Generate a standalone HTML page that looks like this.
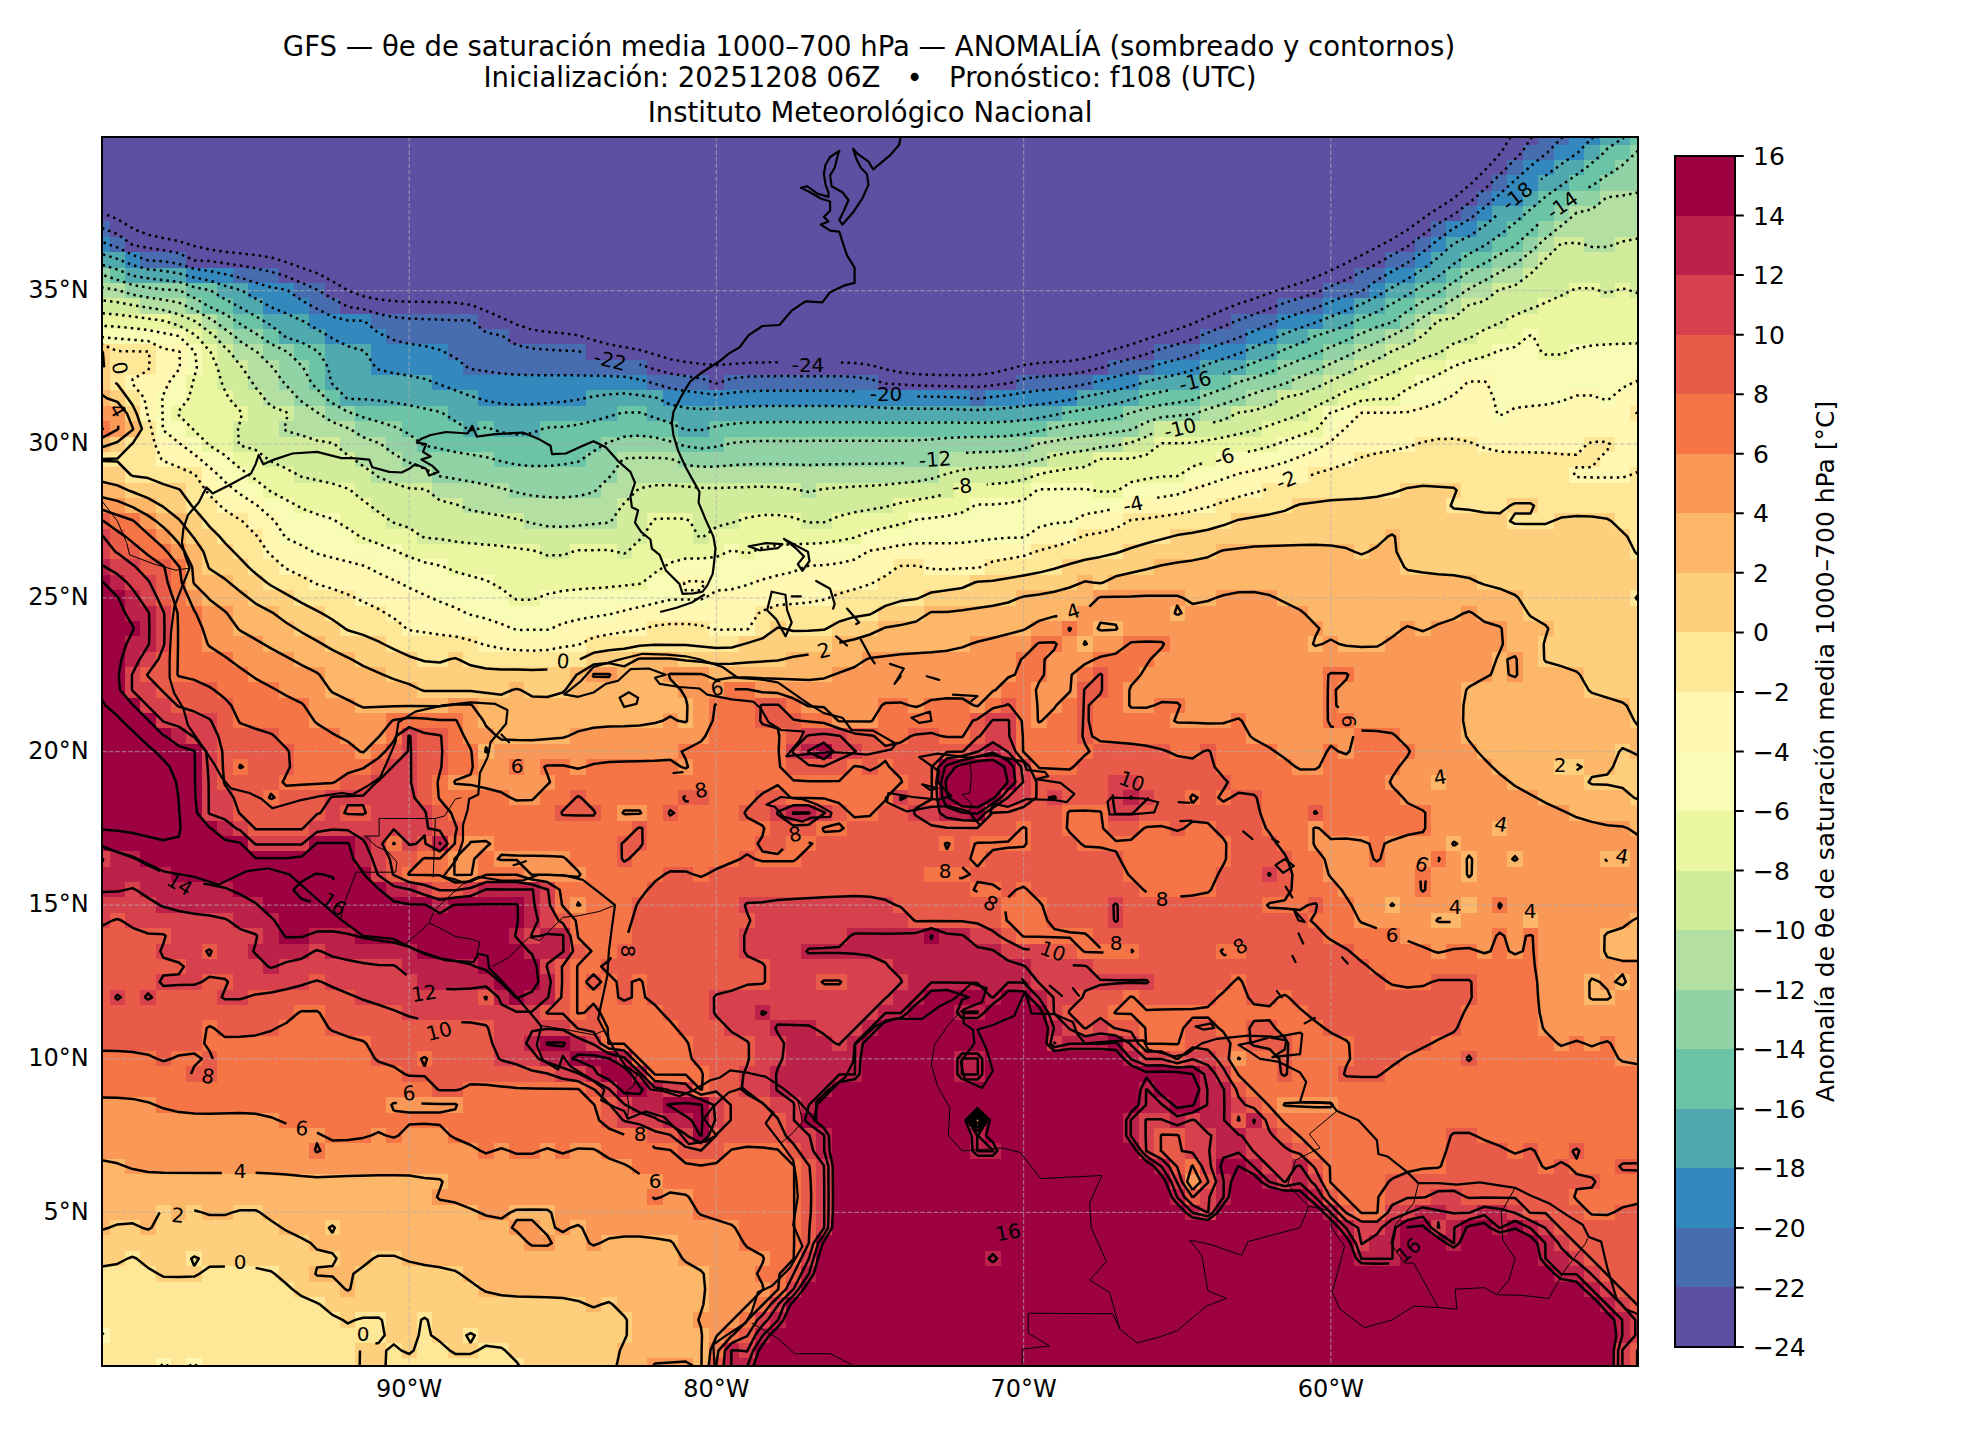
<!DOCTYPE html>
<html lang="es"><head><meta charset="utf-8"><title>GFS — θe de saturación media 1000–700 hPa — ANOMALÍA</title>
<style>html,body{margin:0;padding:0;background:#fff}svg{display:block}text{font-family:'DejaVu Sans','Liberation Sans',sans-serif;fill:#000}</style></head><body>
<svg width="1980" height="1440" viewBox="0 0 1980 1440">
<rect width="1980" height="1440" fill="#fff"/>
<g font-size="27.5" text-anchor="middle">
<text x="869" y="55.8">GFS — θe de saturación media 1000–700 hPa — ANOMALÍA (sombreado y contornos)</text>
<text x="870" y="87.3" xml:space="preserve">Inicialización: 20251208 06Z   •   Pronóstico: f108 (UTC)</text>
<text x="870" y="122">Instituto Meteorológico Nacional</text>
</g>
<defs><clipPath id="ax"><rect x="102.0" y="137.0" width="1536.0" height="1229.0"/></clipPath></defs>
<g clip-path="url(#ax)">
<g shape-rendering="crispEdges"><path fill="#5e4fa2" d="M709 375h15v15h-15zM878 375h138v15h-138zM647 360h461v15h-461zM586 344h568v16h-568zM509 329h691v15h-691zM478 314h753v15h-753zM340 298h937v16h-937zM325 283h998v15h-998zM279 268h1075v15h-1075zM186 252h1199v16h-1199zM125 237h1290v15h-1290zM110 221h1321v16h-1321zM102 206h1359v15h-1359zM102 191h1375v15h-1375zM102 175h1390v16h-1390zM102 160h1405v15h-1405zM102 145h1421v15h-1421zM102 137h1436v8h-1436z"/>
<path fill="#486cb0" d="M970 390h15v16h-15zM647 375h62v15h-62zM724 375h154v15h-154zM1016 375h77v15h-77zM463 360h184v15h-184zM1108 360h46v15h-46zM448 344h138v16h-138zM1154 344h46v16h-46zM386 329h123v15h-123zM1200 329h46v15h-46zM371 314h107v15h-107zM1231 314h46v15h-46zM309 298h31v16h-31zM1277 298h46v16h-46zM294 283h31v15h-31zM1323 283h46v15h-46zM233 268h46v15h-46zM1354 268h31v15h-31zM140 252h46v16h-46zM1385 252h30v16h-30zM110 237h15v15h-15zM1415 237h16v15h-16zM102 221h8v16h-8zM1431 221h15v16h-15zM1461 206h16v15h-16zM1477 191h15v15h-15zM1492 175h15v16h-15zM1507 160h16v15h-16zM1523 145h31v15h-31zM1538 137h31v8h-31z"/>
<path fill="#3389bd" d="M478 390h108v16h-108zM663 390h307v16h-307zM985 390h92v16h-92zM432 375h215v15h-215zM1093 375h46v15h-46zM371 360h92v15h-92zM1154 360h46v15h-46zM371 344h77v16h-77zM1200 344h46v16h-46zM325 329h61v15h-61zM1246 329h31v15h-31zM309 314h62v15h-62zM1277 314h46v15h-46zM263 298h46v16h-46zM1323 298h31v16h-31zM248 283h46v15h-46zM1369 283h16v15h-16zM186 268h47v15h-47zM1385 268h30v15h-30zM125 252h15v16h-15zM1415 252h16v16h-16zM102 237h8v15h-8zM1431 237h15v15h-15zM1446 221h31v16h-31zM1477 206h15v15h-15zM1492 191h31v15h-31zM1507 175h31v16h-31zM1523 160h31v15h-31zM1554 145h30v15h-30zM1569 137h31v8h-31z"/>
<path fill="#50a9af" d="M463 421h15v16h-15zM494 421h46v16h-46zM678 421h31v16h-31zM448 406h169v15h-169zM647 406h415v15h-415zM340 390h138v16h-138zM586 390h77v16h-77zM1077 390h62v16h-62zM325 375h107v15h-107zM1139 375h61v15h-61zM325 360h46v15h-46zM1200 360h46v15h-46zM325 344h46v16h-46zM1246 344h31v16h-31zM279 329h46v15h-46zM1277 329h31v15h-31zM263 314h46v15h-46zM1323 314h31v15h-31zM233 298h30v16h-30zM1354 298h31v16h-31zM217 283h31v15h-31zM1385 283h30v15h-30zM125 268h61v15h-61zM1415 268h31v15h-31zM102 252h23v16h-23zM1431 252h30v16h-30zM1446 237h46v15h-46zM1477 221h30v16h-30zM1492 206h31v15h-31zM1523 191h15v15h-15zM1538 175h31v16h-31zM1554 160h30v15h-30zM1584 145h16v15h-16zM1600 137h30v8h-30z"/>
<path fill="#6bc4a5" d="M494 452h92v15h-92zM417 437h184v15h-184zM678 437h46v15h-46zM402 421h61v16h-61zM478 421h16v16h-16zM540 421h138v16h-138zM709 421h338v16h-338zM355 406h93v15h-93zM617 406h30v15h-30zM1062 406h61v15h-61zM325 390h15v16h-15zM1139 390h61v16h-61zM309 375h16v15h-16zM1200 375h31v15h-31zM309 360h16v15h-16zM1246 360h31v15h-31zM294 344h31v16h-31zM1277 344h46v16h-46zM263 329h16v15h-16zM1308 329h46v15h-46zM233 314h30v15h-30zM1354 314h46v15h-46zM202 298h31v16h-31zM1385 298h30v16h-30zM186 283h31v15h-31zM1415 283h31v15h-31zM110 268h15v15h-15zM1446 268h15v15h-15zM1461 252h31v16h-31zM1492 237h31v15h-31zM1507 221h31v16h-31zM1523 206h31v15h-31zM1538 191h31v15h-31zM1569 175h31v16h-31zM1584 160h31v15h-31zM1600 145h30v15h-30zM1630 137h8v8h-8z"/>
<path fill="#91d3a4" d="M509 483h92v15h-92zM432 467h185v16h-185zM402 452h92v15h-92zM586 452h31v15h-31zM678 452h261v15h-261zM386 437h31v15h-31zM601 437h77v15h-77zM724 437h307v15h-307zM355 421h47v16h-47zM1047 421h92v16h-92zM325 406h30v15h-30zM1123 406h77v15h-77zM294 390h31v16h-31zM1200 390h46v16h-46zM279 375h30v15h-30zM1231 375h61v15h-61zM279 360h30v15h-30zM1277 360h46v15h-46zM263 344h31v16h-31zM1323 344h31v16h-31zM233 329h30v15h-30zM1354 329h31v15h-31zM217 314h16v15h-16zM1400 314h15v15h-15zM186 298h16v16h-16zM1415 298h31v16h-31zM125 283h61v15h-61zM1446 283h15v15h-15zM102 268h8v15h-8zM1461 268h31v15h-31zM1492 252h31v16h-31zM1523 237h15v15h-15zM1538 221h16v16h-16zM1554 206h15v15h-15zM1569 191h31v15h-31zM1600 175h38v16h-38zM1615 160h23v15h-23zM1630 145h8v15h-8z"/>
<path fill="#b3e0a2" d="M524 513h93v16h-93zM463 498h154v15h-154zM432 483h77v15h-77zM601 483h31v15h-31zM801 483h15v15h-15zM371 467h61v16h-61zM617 467h322v16h-322zM355 452h47v15h-47zM617 452h61v15h-61zM939 452h108v15h-108zM340 437h46v15h-46zM1031 437h92v15h-92zM279 421h76v16h-76zM1139 421h15v16h-15zM294 406h31v15h-31zM1200 406h31v15h-31zM263 390h31v16h-31zM1246 390h31v16h-31zM248 375h31v15h-31zM1292 375h31v15h-31zM248 360h31v15h-31zM1323 360h31v15h-31zM233 344h30v16h-30zM1354 344h31v16h-31zM217 329h16v15h-16zM1385 329h30v15h-30zM202 314h15v15h-15zM1415 314h16v15h-16zM140 298h46v16h-46zM1446 298h15v16h-15zM102 283h23v15h-23zM1461 283h31v15h-31zM1492 268h31v15h-31zM1523 252h15v16h-15zM1538 237h16v15h-16zM1584 237h31v15h-31zM1554 221h84v16h-84zM1569 206h69v15h-69zM1600 191h38v15h-38z"/>
<path fill="#d1ed9c" d="M540 544h30v15h-30zM617 544h15v15h-15zM417 529h230v15h-230zM693 529h16v15h-16zM386 513h138v16h-138zM617 513h30v16h-30zM693 513h46v16h-46zM801 513h31v16h-31zM371 498h92v15h-92zM617 498h276v15h-276zM355 483h77v15h-77zM632 483h169v15h-169zM816 483h138v15h-138zM294 467h77v16h-77zM939 467h92v16h-92zM263 452h92v15h-92zM1047 452h46v15h-46zM233 437h107v15h-107zM1123 437h31v15h-31zM233 421h46v16h-46zM1154 421h108v16h-108zM248 406h46v15h-46zM1231 406h77v15h-77zM233 390h30v16h-30zM1277 390h61v16h-61zM217 375h31v15h-31zM1323 375h46v15h-46zM217 360h31v15h-31zM1354 360h46v15h-46zM217 344h16v16h-16zM1385 344h61v16h-61zM202 329h15v15h-15zM1415 329h62v15h-62zM171 314h31v15h-31zM1431 314h76v15h-76zM102 298h38v16h-38zM1461 298h77v16h-77zM1492 283h77v15h-77zM1600 283h15v15h-15zM1630 283h8v15h-8zM1523 268h115v15h-115zM1538 252h100v16h-100zM1554 237h30v15h-30zM1615 237h23v15h-23z"/>
<path fill="#ebf7a0" d="M509 590h31v16h-31zM494 575h153v15h-153zM448 559h215v16h-215zM402 544h138v15h-138zM570 544h47v15h-47zM632 544h92v15h-92zM739 544h16v15h-16zM355 529h62v15h-62zM647 529h46v15h-46zM709 529h153v15h-153zM340 513h46v16h-46zM647 513h46v16h-46zM739 513h62v16h-62zM832 513h76v16h-76zM294 498h77v15h-77zM893 498h77v15h-77zM263 483h92v15h-92zM954 483h77v15h-77zM1093 483h30v15h-30zM248 467h46v16h-46zM1031 467h154v16h-154zM233 452h30v15h-30zM1093 452h123v15h-123zM202 437h31v15h-31zM1154 437h123v15h-123zM186 421h47v16h-47zM1262 421h61v16h-61zM171 406h77v15h-77zM1308 406h15v15h-15zM186 390h47v16h-47zM1338 390h62v16h-62zM186 375h31v15h-31zM1369 375h46v15h-46zM202 360h15v15h-15zM1400 360h46v15h-46zM202 344h15v16h-15zM1446 344h46v16h-46zM1538 344h31v16h-31zM186 329h16v15h-16zM1477 329h46v15h-46zM1538 329h100v15h-100zM102 314h69v15h-69zM1507 314h131v15h-131zM1538 298h100v16h-100zM1569 283h31v15h-31zM1615 283h15v15h-15z"/>
<path fill="#f8fcb4" d="M509 621h46v15h-46zM463 606h154v15h-154zM432 590h77v16h-77zM540 590h169v16h-169zM402 575h92v15h-92zM647 575h31v15h-31zM709 575h46v15h-46zM371 559h77v16h-77zM663 559h138v16h-138zM309 544h93v15h-93zM724 544h15v15h-15zM755 544h107v15h-107zM279 529h76v15h-76zM862 529h169v15h-169zM279 513h61v16h-61zM908 513h169v16h-169zM263 498h31v15h-31zM970 498h153v15h-153zM233 483h30v15h-30zM1031 483h62v15h-62zM1123 483h62v15h-62zM217 467h31v16h-31zM1185 467h46v16h-46zM202 452h31v15h-31zM1216 452h76v15h-76zM186 437h16v15h-16zM1277 437h46v15h-46zM156 421h30v16h-30zM1323 421h15v16h-15zM156 406h15v15h-15zM1323 406h31v15h-31zM1492 406h15v15h-15zM156 390h30v16h-30zM1400 390h46v16h-46zM1492 390h77v16h-77zM1600 390h15v16h-15zM171 375h15v15h-15zM1415 375h46v15h-46zM1492 375h138v15h-138zM186 360h16v15h-16zM1446 360h192v15h-192zM186 344h16v16h-16zM1492 344h46v16h-46zM1569 344h69v16h-69zM102 329h84v15h-84zM1523 329h15v15h-15z"/>
<path fill="#fff7b2" d="M156 1358h15v8h-15zM186 1358h16v8h-16zM102 1328h8v15h-8zM478 636h108v16h-108zM402 621h107v15h-107zM555 621h92v15h-92zM709 621h46v15h-46zM386 606h77v15h-77zM617 606h138v15h-138zM355 590h77v16h-77zM709 590h123v16h-123zM309 575h93v15h-93zM678 575h31v15h-31zM755 575h123v15h-123zM279 559h92v16h-92zM801 559h92v16h-92zM924 559h61v16h-61zM263 544h46v15h-46zM862 544h169v15h-169zM263 529h16v15h-16zM1031 529h46v15h-46zM248 513h31v16h-31zM1077 513h46v16h-46zM217 498h46v15h-46zM1123 498h93v15h-93zM202 483h31v15h-31zM1185 483h77v15h-77zM202 467h15v16h-15zM1231 467h77v16h-77zM1569 467h61v16h-61zM156 452h46v15h-46zM1292 452h62v15h-62zM1600 452h38v15h-38zM156 437h30v15h-30zM1323 437h92v15h-92zM1477 437h107v15h-107zM1615 437h23v15h-23zM1338 421h300v16h-300zM140 406h16v15h-16zM1354 406h138v15h-138zM1507 406h123v15h-123zM140 390h16v16h-16zM1446 390h46v16h-46zM1569 390h31v16h-31zM1615 390h23v16h-23zM125 375h46v15h-46zM1461 375h31v15h-31zM1630 375h8v15h-8zM156 360h30v15h-30zM156 344h30v16h-30z"/>
<path fill="#fee797" d="M102 1358h54v8h-54zM171 1358h15v8h-15zM202 1358h153v8h-153zM386 1358h138v8h-138zM102 1343h253v15h-253zM386 1343h16v15h-16zM417 1343h31v15h-31zM478 1343h31v15h-31zM110 1328h276v15h-276zM417 1328h15v15h-15zM463 1328h15v15h-15zM102 1312h238v16h-238zM355 1312h31v16h-31zM417 1312h15v16h-15zM102 1297h223v15h-223zM102 1282h192v15h-192zM102 1266h54v16h-54zM202 1266h77v16h-77zM125 1251h15v15h-15zM186 1251h16v15h-16zM417 652h31v15h-31zM463 652h123v15h-123zM386 636h92v16h-92zM586 636h153v16h-153zM340 621h62v15h-62zM647 621h62v15h-62zM755 621h15v15h-15zM786 621h46v15h-46zM325 606h61v15h-61zM755 606h123v15h-123zM294 590h61v16h-61zM832 590h92v16h-92zM1630 590h8v16h-8zM263 575h46v15h-46zM878 575h92v15h-92zM248 559h31v16h-31zM893 559h31v16h-31zM985 559h77v16h-77zM233 544h30v15h-30zM1031 544h92v15h-92zM1630 544h8v15h-8zM217 529h46v15h-46zM1077 529h93v15h-93zM1630 529h8v15h-8zM202 513h46v16h-46zM1123 513h108v16h-108zM1507 513h47v16h-47zM1615 513h23v16h-23zM186 498h31v15h-31zM1216 498h76v15h-76zM1446 498h61v15h-61zM1538 498h100v15h-100zM186 483h16v15h-16zM1262 483h138v15h-138zM1461 483h177v15h-177zM125 467h77v16h-77zM1308 467h261v16h-261zM1630 467h8v16h-8zM102 452h54v15h-54zM1354 452h246v15h-246zM125 437h31v15h-31zM1415 437h62v15h-62zM1584 437h31v15h-31zM140 421h16v16h-16zM1630 406h8v15h-8zM125 390h15v16h-15zM110 375h15v15h-15zM110 360h46v15h-46zM110 344h46v16h-46z"/>
<path fill="#fed07e" d="M355 1358h31v8h-31zM524 1358h93v8h-93zM355 1343h31v15h-31zM402 1343h15v15h-15zM448 1343h30v15h-30zM509 1343h108v15h-108zM386 1328h31v15h-31zM432 1328h31v15h-31zM478 1328h154v15h-154zM340 1312h15v16h-15zM386 1312h31v16h-31zM432 1312h200v16h-200zM325 1297h261v15h-261zM601 1297h16v15h-16zM294 1282h46v15h-46zM355 1282h123v15h-123zM156 1266h46v16h-46zM279 1266h30v16h-30zM355 1266h108v16h-108zM102 1251h23v15h-23zM140 1251h46v15h-46zM202 1251h138v15h-138zM371 1251h31v15h-31zM102 1235h207v16h-207zM110 1220h30v15h-30zM156 1220h123v15h-123zM325 1220h15v15h-15zM156 1205h15v15h-15zM186 1205h16v15h-16zM233 1205h30v15h-30zM1630 790h8v15h-8zM1584 775h54v15h-54zM1554 759h30v16h-30zM1615 759h23v16h-23zM1615 744h15v15h-15zM1630 713h8v15h-8zM1630 698h8v15h-8zM417 682h92v16h-92zM524 682h46v16h-46zM1584 682h54v16h-54zM386 667h184v15h-184zM1584 667h54v15h-54zM355 652h62v15h-62zM448 652h15v15h-15zM586 652h46v15h-46zM678 652h108v15h-108zM1538 652h100v15h-100zM325 636h61v16h-61zM739 636h93v16h-93zM1538 636h100v16h-100zM294 621h46v15h-46zM770 621h16v15h-16zM832 621h46v15h-46zM1554 621h84v15h-84zM279 606h46v15h-46zM878 606h46v15h-46zM1523 606h115v15h-115zM248 590h46v16h-46zM924 590h92v16h-92zM1523 590h107v16h-107zM233 575h30v15h-30zM970 575h107v15h-107zM1093 575h15v15h-15zM1477 575h161v15h-161zM202 559h46v16h-46zM1062 559h92v16h-92zM1400 559h238v16h-238zM202 544h31v15h-31zM1123 544h93v15h-93zM1354 544h15v15h-15zM1400 544h230v15h-230zM186 529h31v15h-31zM1170 529h215v15h-215zM1400 529h230v15h-230zM186 513h16v16h-16zM1231 513h276v16h-276zM1554 513h61v16h-61zM156 498h30v15h-30zM1292 498h154v15h-154zM1507 498h31v15h-31zM125 483h61v15h-61zM1400 483h61v15h-61zM102 467h23v16h-23zM110 437h15v15h-15zM125 406h15v15h-15zM110 390h15v16h-15zM102 375h8v15h-8zM102 360h8v15h-8zM102 344h8v16h-8z"/>
<path fill="#fdb768" d="M617 1358h30v8h-30zM693 1358h16v8h-16zM617 1343h92v15h-92zM632 1328h77v15h-77zM632 1312h61v16h-61zM586 1297h15v15h-15zM617 1297h92v15h-92zM340 1282h15v15h-15zM478 1282h231v15h-231zM309 1266h46v16h-46zM463 1266h246v16h-246zM340 1251h31v15h-31zM402 1251h276v15h-276zM309 1235h215v16h-215zM555 1235h31v16h-31zM601 1235h77v16h-77zM102 1220h8v15h-8zM140 1220h16v15h-16zM279 1220h46v15h-46zM340 1220h169v15h-169zM540 1220h15v15h-15zM570 1220h16v15h-16zM102 1205h54v15h-54zM171 1205h15v15h-15zM202 1205h31v15h-31zM263 1205h215v15h-215zM509 1205h46v15h-46zM102 1189h330v16h-330zM102 1174h346v15h-346zM102 1159h23v15h-23zM1584 990h31v15h-31zM1584 974h16v16h-16zM1615 974h15v16h-15zM1600 944h38v15h-38zM1600 928h38v16h-38zM1431 913h30v15h-30zM1523 913h15v15h-15zM1630 913h8v15h-8zM1385 897h15v16h-15zM1461 897h16v16h-16zM1461 867h16v15h-16zM1461 851h16v16h-16zM1507 851h16v16h-16zM1600 851h30v16h-30zM1446 836h15v15h-15zM1492 821h15v15h-15zM1630 821h8v15h-8zM1569 805h69v16h-69zM1538 790h92v15h-92zM1431 775h15v15h-15zM1507 775h77v15h-77zM1492 759h62v16h-62zM1584 759h31v16h-31zM478 744h16v15h-16zM1477 744h138v15h-138zM1630 744h8v15h-8zM494 728h76v16h-76zM1461 728h177v16h-177zM478 713h185v15h-185zM678 713h15v15h-15zM1461 713h169v15h-169zM355 698h93v15h-93zM478 698h215v15h-215zM1461 698h169v15h-169zM325 682h92v16h-92zM509 682h15v16h-15zM570 682h108v16h-108zM1461 682h123v16h-123zM325 667h61v15h-61zM570 667h16v15h-16zM617 667h46v15h-46zM709 667h123v15h-123zM1492 667h15v15h-15zM1523 667h61v15h-61zM294 652h61v15h-61zM632 652h46v15h-46zM786 652h76v15h-76zM1492 652h15v15h-15zM1523 652h15v15h-15zM263 636h62v16h-62zM832 636h138v16h-138zM1077 636h16v16h-16zM1308 636h15v16h-15zM1338 636h47v16h-47zM1507 636h31v16h-31zM233 621h61v15h-61zM878 621h153v15h-153zM1093 621h30v15h-30zM1323 621h77v15h-77zM1415 621h16v15h-16zM1507 621h47v15h-47zM233 606h46v15h-46zM924 606h153v15h-153zM1170 606h15v15h-15zM1308 606h153v15h-153zM1477 606h46v15h-46zM202 590h46v16h-46zM1016 590h77v16h-77zM1185 590h31v16h-31zM1277 590h246v16h-246zM186 575h47v15h-47zM1077 575h16v15h-16zM1108 575h369v15h-369zM186 559h16v16h-16zM1154 559h246v16h-246zM186 544h16v15h-16zM1216 544h138v15h-138zM1369 544h31v15h-31zM171 529h15v15h-15zM1385 529h15v15h-15zM156 513h30v16h-30zM125 498h31v15h-31zM102 483h23v15h-23zM102 437h8v15h-8zM125 421h15v16h-15zM102 390h8v16h-8z"/>
<path fill="#fa9857" d="M647 1358h46v8h-46zM709 1328h15v15h-15zM693 1312h46v16h-46zM709 1297h46v15h-46zM709 1282h61v15h-61zM709 1266h46v16h-46zM678 1251h92v15h-92zM524 1235h31v16h-31zM586 1235h15v16h-15zM678 1235h61v16h-61zM509 1220h31v15h-31zM555 1220h15v15h-15zM586 1220h153v15h-153zM478 1205h31v15h-31zM555 1205h138v15h-138zM432 1189h215v16h-215zM663 1189h30v16h-30zM448 1174h215v15h-215zM1185 1174h15v15h-15zM125 1159h507v15h-507zM102 1143h207v16h-207zM325 1143h153v16h-153zM494 1143h15v16h-15zM540 1143h15v16h-15zM570 1143h31v16h-31zM102 1128h223v15h-223zM371 1128h15v15h-15zM402 1128h46v15h-46zM102 1113h177v15h-177zM970 1113h15v15h-15zM102 1097h54v16h-54zM386 1097h77v16h-77zM1277 1097h61v16h-61zM1231 1051h15v15h-15zM1615 1051h23v15h-23zM1554 1036h15v15h-15zM1584 1036h16v15h-16zM1615 1036h23v15h-23zM1538 1020h100v16h-100zM1538 1005h100v15h-100zM1538 990h46v15h-46zM1615 990h23v15h-23zM1538 974h46v16h-46zM1600 974h15v16h-15zM1630 974h8v16h-8zM1538 959h100v15h-100zM1431 944h15v15h-15zM1477 944h15v15h-15zM1507 944h16v15h-16zM1538 944h62v15h-62zM1400 928h92v16h-92zM1507 928h16v16h-16zM1538 928h62v16h-62zM1354 913h77v15h-77zM1461 913h62v15h-62zM1538 913h92v15h-92zM570 897h16v16h-16zM1354 897h31v16h-31zM1400 897h61v16h-61zM1477 897h15v16h-15zM1507 897h131v16h-131zM1338 882h77v15h-77zM1431 882h207v15h-207zM448 867h30v15h-30zM524 867h62v15h-62zM1323 867h92v15h-92zM1431 867h30v15h-30zM1477 867h161v15h-161zM448 851h30v16h-30zM494 851h76v16h-76zM1323 851h46v16h-46zM1385 851h46v16h-46zM1446 851h15v16h-15zM1477 851h30v16h-30zM1523 851h77v16h-77zM1630 851h8v16h-8zM463 836h31v15h-31zM1308 836h61v15h-61zM1385 836h61v15h-61zM1461 836h177v15h-177zM1308 821h15v15h-15zM1431 821h61v15h-61zM1507 821h123v15h-123zM617 805h30v16h-30zM1431 805h138v16h-138zM509 790h31v15h-31zM1400 790h138v15h-138zM448 775h107v15h-107zM1385 775h46v15h-46zM1446 775h61v15h-61zM478 759h31v16h-31zM524 759h16v16h-16zM570 759h16v16h-16zM678 759h15v16h-15zM1292 759h31v16h-31zM1400 759h92v16h-92zM355 744h16v15h-16zM494 744h184v15h-184zM1277 744h46v15h-46zM1338 744h16v15h-16zM1415 744h62v15h-62zM340 728h46v16h-46zM463 728h31v16h-31zM570 728h139v16h-139zM1246 728h108v16h-108zM1400 728h61v16h-61zM309 713h77v15h-77zM463 713h15v15h-15zM663 713h15v15h-15zM693 713h16v15h-16zM832 713h46v15h-46zM1031 713h16v15h-16zM1170 713h61v15h-61zM1246 713h77v15h-77zM1354 713h107v15h-107zM309 698h46v15h-46zM448 698h30v15h-30zM693 698h16v15h-16zM801 698h77v15h-77zM908 698h16v15h-16zM970 698h15v15h-15zM1031 698h31v15h-31zM1123 698h31v15h-31zM1185 698h138v15h-138zM1338 698h123v15h-123zM279 682h46v16h-46zM678 682h46v16h-46zM755 682h246v16h-246zM1031 682h46v16h-46zM1123 682h200v16h-200zM1338 682h123v16h-123zM248 667h77v15h-77zM586 667h31v15h-31zM663 667h46v15h-46zM832 667h184v15h-184zM1047 667h30v15h-30zM1139 667h184v15h-184zM1354 667h138v15h-138zM1507 667h16v15h-16zM233 652h61v15h-61zM862 652h154v15h-154zM1047 652h46v15h-46zM1154 652h338v15h-338zM1507 652h16v15h-16zM202 636h61v16h-61zM970 636h61v16h-61zM1062 636h15v16h-15zM1093 636h30v16h-30zM1170 636h138v16h-138zM1323 636h15v16h-15zM1385 636h122v16h-122zM202 621h31v15h-31zM1031 621h31v15h-31zM1077 621h16v15h-16zM1123 621h200v15h-200zM1400 621h15v15h-15zM1431 621h76v15h-76zM202 606h31v15h-31zM1077 606h93v15h-93zM1185 606h123v15h-123zM1461 606h16v15h-16zM186 590h16v16h-16zM1093 590h92v16h-92zM1216 590h61v16h-61zM171 544h15v15h-15zM156 529h15v15h-15zM140 513h16v16h-16zM102 498h23v15h-23zM110 421h15v16h-15zM102 406h23v15h-23z"/>
<path fill="#f57547" d="M709 1343h15v15h-15zM724 1328h15v15h-15zM739 1312h16v16h-16zM755 1297h15v15h-15zM770 1282h16v15h-16zM755 1266h31v16h-31zM770 1251h31v15h-31zM739 1235h62v16h-62zM739 1220h62v15h-62zM693 1205h108v15h-108zM1354 1205h31v15h-31zM1584 1205h31v15h-31zM647 1189h16v16h-16zM693 1189h108v16h-108zM1338 1189h47v16h-47zM1569 1189h69v16h-69zM663 1174h138v15h-138zM1323 1174h62v15h-62zM1600 1174h38v15h-38zM632 1159h169v15h-169zM1185 1159h15v15h-15zM1323 1159h123v15h-123zM1538 1159h16v15h-16zM1569 1159h46v15h-46zM309 1143h16v16h-16zM478 1143h16v16h-16zM509 1143h31v16h-31zM555 1143h15v16h-15zM601 1143h77v16h-77zM724 1143h62v16h-62zM1308 1143h138v16h-138zM1507 1143h16v16h-16zM1538 1143h31v16h-31zM1584 1143h54v16h-54zM325 1128h46v15h-46zM386 1128h16v15h-16zM448 1128h199v15h-199zM1292 1128h154v15h-154zM1477 1128h161v15h-161zM279 1113h322v15h-322zM1277 1113h361v15h-361zM156 1097h230v16h-230zM463 1097h138v16h-138zM1262 1097h15v16h-15zM1338 1097h300v16h-300zM102 1082h330v15h-330zM463 1082h123v15h-123zM693 1082h16v15h-16zM1246 1082h392v15h-392zM102 1066h84v16h-84zM217 1066h185v16h-185zM647 1066h62v16h-62zM1231 1066h46v16h-46zM1292 1066h46v16h-46zM1385 1066h253v16h-253zM102 1051h54v15h-54zM171 1051h31v15h-31zM217 1051h154v15h-154zM417 1051h15v15h-15zM632 1051h61v15h-61zM1246 1051h31v15h-31zM1292 1051h62v15h-62zM1400 1051h61v15h-61zM1477 1051h138v15h-138zM202 1036h169v15h-169zM601 1036h92v15h-92zM1139 1036h46v15h-46zM1231 1036h15v15h-15zM1292 1036h62v15h-62zM1431 1036h123v15h-123zM1569 1036h15v15h-15zM1600 1036h15v15h-15zM202 1020h15v16h-15zM279 1020h46v16h-46zM601 1020h77v16h-77zM1139 1020h46v16h-46zM1216 1020h30v16h-30zM1277 1020h46v16h-46zM1461 1020h77v16h-77zM294 1005h31v15h-31zM570 1005h16v15h-16zM601 1005h62v15h-62zM1108 1005h200v15h-200zM1461 1005h77v15h-77zM570 990h47v15h-47zM632 990h15v15h-15zM1123 990h16v15h-16zM1216 990h30v15h-30zM1277 990h15v15h-15zM1477 990h61v15h-61zM570 974h16v16h-16zM601 974h16v16h-16zM632 974h15v16h-15zM1231 974h15v16h-15zM1385 974h46v16h-46zM1477 974h61v16h-61zM570 959h31v15h-31zM1369 959h169v15h-169zM586 944h31v15h-31zM1077 944h62v15h-62zM1216 944h30v15h-30zM1354 944h77v15h-77zM1446 944h31v15h-31zM1492 944h15v15h-15zM1523 944h15v15h-15zM570 928h62v16h-62zM1016 928h77v16h-77zM1323 928h77v16h-77zM1492 928h15v16h-15zM1523 928h15v16h-15zM570 913h62v15h-62zM1001 913h46v15h-46zM1308 913h46v15h-46zM555 897h15v16h-15zM586 897h46v16h-46zM1001 897h46v16h-46zM1262 897h46v16h-46zM1323 897h31v16h-31zM1492 897h15v16h-15zM555 882h92v15h-92zM970 882h31v15h-31zM1016 882h15v15h-15zM1139 882h77v15h-77zM1292 882h46v15h-46zM1415 882h16v15h-16zM402 867h46v15h-46zM478 867h46v15h-46zM586 867h77v15h-77zM693 867h16v15h-16zM924 867h46v15h-46zM1123 867h93v15h-93zM1292 867h31v15h-31zM1415 867h16v15h-16zM417 851h31v16h-31zM478 851h16v16h-16zM570 851h47v16h-47zM632 851h107v16h-107zM755 851h46v16h-46zM970 851h15v16h-15zM1123 851h108v16h-108zM1292 851h31v16h-31zM1369 851h16v16h-16zM1431 851h15v16h-15zM386 836h16v15h-16zM448 836h15v15h-15zM494 836h123v15h-123zM647 836h108v15h-108zM786 836h30v15h-30zM939 836h15v15h-15zM970 836h61v15h-61zM1077 836h154v15h-154zM1277 836h31v15h-31zM1369 836h16v15h-16zM463 821h169v15h-169zM647 821h123v15h-123zM816 821h31v15h-31zM1016 821h15v15h-15zM1062 821h46v15h-46zM1139 821h31v15h-31zM1185 821h31v15h-31zM1262 821h46v15h-46zM1323 821h108v15h-108zM448 805h107v16h-107zM601 805h16v16h-16zM647 805h16v16h-16zM678 805h61v16h-61zM847 805h31v16h-31zM1062 805h46v16h-46zM1262 805h46v16h-46zM1323 805h108v16h-108zM263 790h16v15h-16zM432 790h77v15h-77zM540 790h30v15h-30zM586 790h92v15h-92zM709 790h46v15h-46zM786 790h107v15h-107zM1185 790h15v15h-15zM1216 790h15v15h-15zM1262 790h138v15h-138zM279 775h61v15h-61zM432 775h16v15h-16zM555 775h353v15h-353zM1231 775h154v15h-154zM233 759h15v16h-15zM294 759h77v16h-77zM448 759h30v16h-30zM509 759h15v16h-15zM540 759h30v16h-30zM586 759h92v16h-92zM693 759h93v16h-93zM847 759h15v16h-15zM878 759h15v16h-15zM1031 759h46v16h-46zM1216 759h76v16h-76zM1323 759h77v16h-77zM294 744h61v15h-61zM371 744h15v15h-15zM448 744h30v15h-30zM678 744h108v15h-108zM1016 744h77v15h-77zM1170 744h30v15h-30zM1216 744h61v15h-61zM1323 744h15v15h-15zM1354 744h61v15h-61zM279 728h61v16h-61zM386 728h16v16h-16zM448 728h15v16h-15zM709 728h77v16h-77zM878 728h30v16h-30zM939 728h31v16h-31zM1016 728h61v16h-61zM1093 728h153v16h-153zM1354 728h46v16h-46zM233 713h76v15h-76zM386 713h77v15h-77zM709 713h46v15h-46zM801 713h31v15h-31zM878 713h92v15h-92zM1016 713h15v15h-15zM1047 713h30v15h-30zM1093 713h77v15h-77zM1231 713h15v15h-15zM1323 713h31v15h-31zM233 698h76v15h-76zM709 698h46v15h-46zM786 698h15v15h-15zM878 698h30v15h-30zM924 698h46v15h-46zM985 698h16v15h-16zM1016 698h15v15h-15zM1062 698h15v15h-15zM1093 698h30v15h-30zM1154 698h31v15h-31zM1323 698h15v15h-15zM217 682h62v16h-62zM724 682h31v16h-31zM1001 682h30v16h-30zM1108 682h15v16h-15zM1323 682h15v16h-15zM171 667h77v15h-77zM1016 667h31v15h-31zM1077 667h16v15h-16zM1108 667h31v15h-31zM1323 667h31v15h-31zM171 652h62v15h-62zM1016 652h31v15h-31zM1093 652h61v15h-61zM171 636h31v16h-31zM1031 636h31v16h-31zM1123 636h47v16h-47zM171 621h31v15h-31zM1062 621h15v15h-15zM171 606h31v15h-31zM171 590h15v16h-15zM171 575h15v15h-15zM171 559h15v16h-15zM140 544h31v15h-31zM125 529h31v15h-31zM110 513h30v16h-30zM102 421h8v16h-8z"/>
<path fill="#e85b48" d="M709 1358h15v8h-15zM1630 1358h8v8h-8zM1630 1343h8v15h-8zM739 1328h16v15h-16zM1630 1297h8v15h-8zM1615 1282h23v15h-23zM786 1266h15v16h-15zM1600 1266h38v16h-38zM1584 1251h54v15h-54zM801 1235h15v16h-15zM1569 1235h69v16h-69zM801 1220h15v15h-15zM1554 1220h84v15h-84zM801 1205h15v15h-15zM1338 1205h16v15h-16zM1523 1205h61v15h-61zM1615 1205h23v15h-23zM801 1189h15v16h-15zM1185 1189h15v16h-15zM1323 1189h15v16h-15zM1385 1189h46v16h-46zM1461 1189h108v16h-108zM801 1174h15v15h-15zM1200 1174h16v15h-16zM1385 1174h215v15h-215zM801 1159h15v15h-15zM1170 1159h15v15h-15zM1308 1159h15v15h-15zM1446 1159h92v15h-92zM1554 1159h15v15h-15zM1615 1159h23v15h-23zM678 1143h46v16h-46zM786 1143h15v16h-15zM1154 1143h31v16h-31zM1292 1143h16v16h-16zM1446 1143h61v16h-61zM1523 1143h15v16h-15zM1569 1143h15v16h-15zM647 1128h31v15h-31zM709 1128h77v15h-77zM1154 1128h31v15h-31zM1277 1128h15v15h-15zM1446 1128h31v15h-31zM601 1113h16v15h-16zM724 1113h62v15h-62zM1231 1113h15v15h-15zM1262 1113h15v15h-15zM601 1097h16v16h-16zM724 1097h46v16h-46zM1246 1097h16v16h-16zM432 1082h31v15h-31zM586 1082h15v15h-15zM709 1082h30v15h-30zM1231 1082h15v15h-15zM186 1066h31v16h-31zM402 1066h153v16h-153zM709 1066h30v16h-30zM1277 1066h15v16h-15zM1338 1066h47v16h-47zM156 1051h15v15h-15zM202 1051h15v15h-15zM371 1051h46v15h-46zM432 1051h62v15h-62zM693 1051h62v15h-62zM1170 1051h15v15h-15zM1216 1051h15v15h-15zM1277 1051h15v15h-15zM1354 1051h46v15h-46zM1461 1051h16v15h-16zM102 1036h100v15h-100zM371 1036h123v15h-123zM693 1036h62v15h-62zM1185 1036h46v15h-46zM1246 1036h46v15h-46zM1354 1036h77v15h-77zM102 1020h100v16h-100zM217 1020h62v16h-62zM325 1020h169v16h-169zM570 1020h31v16h-31zM678 1020h46v16h-46zM1077 1020h16v16h-16zM1108 1020h31v16h-31zM1185 1020h31v16h-31zM1246 1020h31v16h-31zM1323 1020h138v16h-138zM102 1005h192v15h-192zM325 1005h77v15h-77zM540 1005h30v15h-30zM586 1005h15v15h-15zM663 1005h46v15h-46zM1062 1005h46v15h-46zM1308 1005h153v15h-153zM102 990h8v15h-8zM125 990h15v15h-15zM156 990h61v15h-61zM248 990h107v15h-107zM478 990h16v15h-16zM555 990h15v15h-15zM617 990h15v15h-15zM647 990h62v15h-62zM1077 990h46v15h-46zM1139 990h77v15h-77zM1246 990h31v15h-31zM1292 990h185v15h-185zM102 974h54v16h-54zM202 974h31v16h-31zM309 974h16v16h-16zM555 974h15v16h-15zM586 974h15v16h-15zM617 974h15v16h-15zM647 974h123v16h-123zM816 974h31v16h-31zM1154 974h77v16h-77zM1246 974h139v16h-139zM1431 974h46v16h-46zM102 959h84v15h-84zM555 959h15v15h-15zM601 959h169v15h-169zM1093 959h276v15h-276zM102 944h54v15h-54zM202 944h15v15h-15zM570 944h16v15h-16zM617 944h122v15h-122zM1047 944h30v15h-30zM1139 944h77v15h-77zM1246 944h108v15h-108zM102 928h69v16h-69zM632 928h107v16h-107zM1001 928h15v16h-15zM1093 928h230v16h-230zM110 913h15v15h-15zM555 913h15v15h-15zM632 913h123v15h-123zM908 913h93v15h-93zM1047 913h61v15h-61zM1123 913h185v15h-185zM632 897h107v16h-107zM893 897h108v16h-108zM1047 897h61v16h-61zM1123 897h139v16h-139zM1308 897h15v16h-15zM432 882h31v15h-31zM647 882h323v15h-323zM1001 882h15v15h-15zM1031 882h108v15h-108zM1216 882h76v15h-76zM386 867h16v15h-16zM663 867h30v15h-30zM709 867h215v15h-215zM970 867h153v15h-153zM1216 867h46v15h-46zM1277 867h15v15h-15zM386 851h31v16h-31zM617 851h15v16h-15zM739 851h16v16h-16zM801 851h169v16h-169zM985 851h138v16h-138zM1231 851h61v16h-61zM417 836h15v15h-15zM617 836h30v15h-30zM755 836h31v15h-31zM816 836h123v15h-123zM954 836h16v15h-16zM1031 836h46v15h-46zM1231 836h46v15h-46zM248 821h61v15h-61zM432 821h31v15h-31zM632 821h15v15h-15zM770 821h46v15h-46zM847 821h169v15h-169zM1031 821h31v15h-31zM1108 821h31v15h-31zM1170 821h15v15h-15zM1216 821h46v15h-46zM233 805h92v16h-92zM340 805h31v16h-31zM432 805h16v16h-16zM555 805h46v16h-46zM663 805h15v16h-15zM739 805h31v16h-31zM832 805h15v16h-15zM878 805h30v16h-30zM985 805h77v16h-77zM1139 805h123v16h-123zM1308 805h15v16h-15zM233 790h30v15h-30zM279 790h46v15h-46zM417 790h15v15h-15zM570 790h16v15h-16zM678 790h31v15h-31zM755 790h31v15h-31zM908 790h31v15h-31zM1031 790h16v15h-16zM1062 790h46v15h-46zM1154 790h31v15h-31zM1200 790h16v15h-16zM1231 790h31v15h-31zM217 775h62v15h-62zM340 775h31v15h-31zM417 775h15v15h-15zM908 775h31v15h-31zM1031 775h77v15h-77zM1139 775h92v15h-92zM217 759h16v16h-16zM248 759h46v16h-46zM371 759h15v16h-15zM417 759h31v16h-31zM786 759h61v16h-61zM862 759h16v16h-16zM893 759h46v16h-46zM1077 759h139v16h-139zM217 744h77v15h-77zM386 744h16v15h-16zM417 744h31v15h-31zM862 744h108v15h-108zM1093 744h77v15h-77zM1200 744h16v15h-16zM217 728h62v16h-62zM417 728h31v16h-31zM786 728h15v16h-15zM847 728h31v16h-31zM908 728h31v16h-31zM970 728h15v16h-15zM1077 728h16v16h-16zM217 713h16v15h-16zM755 713h46v15h-46zM970 713h15v15h-15zM1077 713h16v15h-16zM171 698h62v15h-62zM755 698h31v15h-31zM1001 698h15v15h-15zM1077 698h16v15h-16zM156 682h61v16h-61zM1077 682h31v16h-31zM140 667h31v15h-31zM1093 667h15v15h-15zM156 652h15v15h-15zM156 590h15v16h-15zM156 575h15v15h-15zM140 559h31v16h-31zM110 544h30v15h-30zM110 529h15v15h-15zM102 513h8v16h-8z"/>
<path fill="#d7414e" d="M1615 1358h15v8h-15zM739 1343h16v15h-16zM1615 1343h15v15h-15zM1630 1328h8v15h-8zM755 1312h15v16h-15zM1630 1312h8v16h-8zM770 1297h16v15h-16zM1615 1297h15v15h-15zM786 1282h15v15h-15zM1600 1282h15v15h-15zM1584 1266h16v16h-16zM801 1251h15v15h-15zM1569 1251h15v15h-15zM1354 1235h15v16h-15zM1554 1235h15v16h-15zM816 1220h16v15h-16zM1354 1220h31v15h-31zM1431 1220h15v15h-15zM1538 1220h16v15h-16zM816 1205h16v15h-16zM1200 1205h16v15h-16zM1385 1205h30v15h-30zM1446 1205h31v15h-31zM1507 1205h16v15h-16zM816 1189h16v16h-16zM1200 1189h16v16h-16zM1431 1189h30v16h-30zM816 1174h16v15h-16zM1170 1174h15v15h-15zM1277 1174h15v15h-15zM1308 1174h15v15h-15zM816 1159h16v15h-16zM1200 1159h16v15h-16zM1262 1159h30v15h-30zM801 1143h15v16h-15zM1139 1143h15v16h-15zM1185 1143h31v16h-31zM1246 1143h46v16h-46zM678 1128h15v15h-15zM786 1128h30v15h-30zM1139 1128h15v15h-15zM1185 1128h31v15h-31zM1246 1128h31v15h-31zM617 1113h46v15h-46zM709 1113h15v15h-15zM786 1113h15v15h-15zM1139 1113h31v15h-31zM1185 1113h15v15h-15zM617 1097h15v16h-15zM709 1097h15v16h-15zM770 1097h31v16h-31zM1231 1097h15v16h-15zM601 1082h16v15h-16zM663 1082h30v15h-30zM739 1082h31v15h-31zM555 1066h31v16h-31zM739 1066h31v16h-31zM1216 1066h15v16h-15zM494 1051h46v15h-46zM755 1051h31v15h-31zM1139 1051h31v15h-31zM1185 1051h31v15h-31zM494 1036h30v15h-30zM586 1036h15v15h-15zM755 1036h31v15h-31zM832 1036h15v15h-15zM1047 1036h15v15h-15zM1123 1036h16v15h-16zM494 1020h76v16h-76zM724 1020h46v16h-46zM816 1020h46v16h-46zM1062 1020h15v16h-15zM1093 1020h15v16h-15zM402 1005h138v15h-138zM709 1005h46v15h-46zM770 1005h108v15h-108zM1047 1005h15v15h-15zM110 990h15v15h-15zM140 990h16v15h-16zM217 990h31v15h-31zM355 990h123v15h-123zM709 990h184v15h-184zM1047 990h30v15h-30zM156 974h46v16h-46zM233 974h76v16h-76zM325 974h92v16h-92zM770 974h46v16h-46zM847 974h61v16h-61zM1031 974h123v16h-123zM186 959h77v15h-77zM279 959h123v15h-123zM540 959h15v15h-15zM770 959h123v15h-123zM1031 959h62v15h-62zM156 944h46v15h-46zM217 944h31v15h-31zM309 944h16v15h-16zM739 944h62v15h-62zM1001 944h46v15h-46zM171 928h92v16h-92zM524 928h16v16h-16zM739 928h108v16h-108zM970 928h31v16h-31zM102 913h8v15h-8zM125 913h108v15h-108zM540 913h15v15h-15zM755 913h153v15h-153zM1108 913h15v15h-15zM102 897h54v16h-54zM540 897h15v16h-15zM739 897h154v16h-154zM1108 897h15v16h-15zM125 882h15v15h-15zM417 882h15v15h-15zM463 882h15v15h-15zM540 882h15v15h-15zM371 867h15v15h-15zM1262 867h15v15h-15zM102 851h8v16h-8zM371 851h15v16h-15zM248 836h61v15h-61zM371 836h15v15h-15zM402 836h15v15h-15zM233 821h15v15h-15zM309 821h123v15h-123zM202 805h31v16h-31zM325 805h15v16h-15zM371 805h61v16h-61zM770 805h16v16h-16zM816 805h16v16h-16zM908 805h31v16h-31zM1108 805h31v16h-31zM202 790h31v15h-31zM325 790h92v15h-92zM893 790h15v15h-15zM1001 790h30v15h-30zM1047 790h15v15h-15zM1108 790h15v15h-15zM1139 790h15v15h-15zM202 775h15v15h-15zM371 775h46v15h-46zM1016 775h15v15h-15zM1108 775h31v15h-31zM202 759h15v16h-15zM386 759h31v16h-31zM1016 759h15v16h-15zM202 744h15v15h-15zM402 744h15v15h-15zM786 744h15v15h-15zM832 744h30v15h-30zM970 744h15v15h-15zM1001 744h15v15h-15zM186 728h31v16h-31zM402 728h15v16h-15zM801 728h46v16h-46zM985 728h31v16h-31zM156 713h61v15h-61zM985 713h31v15h-31zM140 698h31v15h-31zM125 682h31v16h-31zM125 667h15v15h-15zM140 652h16v15h-16zM156 636h15v16h-15zM156 621h15v15h-15zM156 606h15v15h-15zM140 590h16v16h-16zM125 575h31v15h-31zM110 559h30v16h-30zM102 544h8v15h-8zM102 529h8v15h-8z"/>
<path fill="#bc2249" d="M724 1358h31v8h-31zM724 1343h15v15h-15zM755 1328h15v15h-15zM1615 1328h15v15h-15zM770 1312h16v16h-16zM1615 1312h15v16h-15zM1600 1297h15v15h-15zM1584 1282h16v15h-16zM801 1266h15v16h-15zM1554 1266h30v16h-30zM985 1251h16v15h-16zM1354 1251h46v15h-46zM1538 1251h31v15h-31zM1369 1235h31v16h-31zM1446 1235h15v16h-15zM1538 1235h16v16h-16zM1338 1220h16v15h-16zM1385 1220h15v15h-15zM1446 1220h15v15h-15zM1492 1220h15v15h-15zM1523 1220h15v15h-15zM1185 1205h15v15h-15zM1323 1205h15v15h-15zM1415 1205h31v15h-31zM1477 1205h30v15h-30zM1170 1189h15v16h-15zM1216 1189h15v16h-15zM1308 1189h15v16h-15zM1216 1174h15v15h-15zM1262 1174h15v15h-15zM1292 1174h16v15h-16zM1154 1159h16v15h-16zM1246 1159h16v15h-16zM1292 1159h16v15h-16zM816 1143h16v16h-16zM970 1143h31v16h-31zM1216 1143h30v16h-30zM816 1128h16v15h-16zM970 1128h15v15h-15zM1123 1128h16v15h-16zM1216 1128h30v15h-30zM663 1113h30v15h-30zM1123 1113h16v15h-16zM1170 1113h15v15h-15zM1200 1113h31v15h-31zM1246 1113h16v15h-16zM632 1097h31v16h-31zM801 1097h15v16h-15zM1139 1097h31v16h-31zM1200 1097h31v16h-31zM647 1082h16v15h-16zM770 1082h62v15h-62zM1139 1082h15v15h-15zM1200 1082h31v15h-31zM586 1066h15v16h-15zM632 1066h15v16h-15zM770 1066h92v16h-92zM954 1066h31v16h-31zM1200 1066h16v16h-16zM540 1051h30v15h-30zM617 1051h15v15h-15zM786 1051h76v15h-76zM954 1051h31v15h-31zM1123 1051h16v15h-16zM524 1036h16v15h-16zM570 1036h16v15h-16zM786 1036h46v15h-46zM847 1036h15v15h-15zM1062 1036h46v15h-46zM770 1020h46v16h-46zM862 1020h16v16h-16zM1047 1020h15v16h-15zM755 1005h15v15h-15zM878 1005h30v15h-30zM954 1005h31v15h-31zM494 990h15v15h-15zM524 990h31v15h-31zM893 990h31v15h-31zM985 990h16v15h-16zM1031 990h16v15h-16zM417 974h77v16h-77zM540 974h15v16h-15zM908 974h123v16h-123zM263 959h16v15h-16zM402 959h76v15h-76zM893 959h138v15h-138zM248 944h61v15h-61zM325 944h92v15h-92zM524 944h46v15h-46zM801 944h200v15h-200zM263 928h16v16h-16zM309 928h46v16h-46zM509 928h15v16h-15zM540 928h30v16h-30zM847 928h77v16h-77zM939 928h31v16h-31zM233 913h46v15h-46zM524 913h16v15h-16zM156 897h107v16h-107zM432 897h16v16h-16zM524 897h16v16h-16zM102 882h23v15h-23zM140 882h93v15h-93zM386 882h31v15h-31zM478 882h62v15h-62zM102 867h69v15h-69zM110 851h30v16h-30zM355 851h16v16h-16zM355 836h16v15h-16zM432 836h16v15h-16zM217 821h16v15h-16zM786 805h30v16h-30zM939 805h31v16h-31zM1123 790h16v15h-16zM801 744h15v15h-15zM985 744h16v15h-16zM171 728h15v16h-15zM125 652h15v15h-15zM125 636h31v16h-31zM140 621h16v15h-16zM125 606h31v15h-31zM125 590h15v16h-15zM110 575h15v15h-15zM102 559h8v16h-8z"/>
<path fill="#9e0142" d="M755 1358h860v8h-860zM755 1343h860v15h-860zM770 1328h845v15h-845zM786 1312h829v16h-829zM786 1297h814v15h-814zM801 1282h783v15h-783zM816 1266h738v16h-738zM816 1251h169v15h-169zM1001 1251h353v15h-353zM1400 1251h138v15h-138zM816 1235h538v16h-538zM1400 1235h46v16h-46zM1461 1235h77v16h-77zM832 1220h506v15h-506zM1400 1220h31v15h-31zM1461 1220h31v15h-31zM1507 1220h16v15h-16zM832 1205h353v15h-353zM1216 1205h107v15h-107zM832 1189h338v16h-338zM1231 1189h77v16h-77zM832 1174h338v15h-338zM1231 1174h31v15h-31zM832 1159h322v15h-322zM1216 1159h30v15h-30zM832 1143h138v16h-138zM1001 1143h138v16h-138zM693 1128h16v15h-16zM832 1128h138v15h-138zM985 1128h138v15h-138zM693 1113h16v15h-16zM801 1113h169v15h-169zM985 1113h138v15h-138zM663 1097h46v16h-46zM816 1097h323v16h-323zM1170 1097h30v16h-30zM617 1082h30v15h-30zM832 1082h307v15h-307zM1154 1082h46v15h-46zM601 1066h31v16h-31zM862 1066h92v16h-92zM985 1066h215v16h-215zM570 1051h47v15h-47zM862 1051h92v15h-92zM985 1051h138v15h-138zM540 1036h30v15h-30zM862 1036h185v15h-185zM1108 1036h15v15h-15zM878 1020h169v16h-169zM908 1005h46v15h-46zM985 1005h62v15h-62zM509 990h15v15h-15zM924 990h61v15h-61zM1001 990h30v15h-30zM494 974h46v16h-46zM478 959h62v15h-62zM417 944h107v15h-107zM279 928h30v16h-30zM355 928h154v16h-154zM924 928h15v16h-15zM279 913h245v15h-245zM263 897h169v16h-169zM448 897h76v16h-76zM233 882h153v15h-153zM171 867h200v15h-200zM140 851h215v16h-215zM102 836h146v15h-146zM309 836h46v15h-46zM102 821h115v15h-115zM102 805h100v16h-100zM970 805h15v16h-15zM102 790h100v15h-100zM939 790h62v15h-62zM102 775h100v15h-100zM939 775h77v15h-77zM102 759h100v16h-100zM939 759h77v16h-77zM102 744h100v15h-100zM816 744h16v15h-16zM102 728h69v16h-69zM102 713h54v15h-54zM102 698h38v15h-38zM102 682h23v16h-23zM102 667h23v15h-23zM102 652h23v15h-23zM102 636h23v16h-23zM102 621h38v15h-38zM102 606h23v15h-23zM102 590h23v16h-23zM102 575h8v15h-8z"/></g>
<path d="M409.2 137.0V1366.0M716.4 137.0V1366.0M1023.6 137.0V1366.0M1330.8 137.0V1366.0M102.0 1212.4H1638.0M102.0 1058.8H1638.0M102.0 905.1H1638.0M102.0 751.5H1638.0M102.0 597.9H1638.0M102.0 444.2H1638.0M102.0 290.6H1638.0" fill="none" stroke="#b0b0b0" stroke-opacity="0.6" stroke-width="1.25" stroke-dasharray="4.6 2"/>
<path d="M385.6 1366.0L386.2 1350.6L393.8 1344.4L401.5 1350.6L409.2 1354.0L413.6 1350.6L418.7 1335.3L421.2 1319.9L424.6 1317.7L427.6 1319.9L431.1 1335.3L439.9 1341.6L450.0 1350.6L455.3 1353.9L470.6 1353.9L477.5 1350.6L486.0 1345.7L501.4 1347.8L505.3 1350.6L516.7 1362.0L519.5 1366.0M470.6 1343.0L466.3 1335.3L470.6 1333.1L474.8 1335.3L470.6 1343.0M102.0 1266.5L117.4 1263.9L127.7 1258.5L132.7 1256.8L136.5 1258.5L148.1 1267.9L158.2 1273.8L163.4 1276.7L178.8 1277.0L194.2 1276.6L199.4 1273.8L209.5 1266.8L224.9 1266.5M255.6 1267.9L271.0 1271.3L274.6 1273.8L286.3 1283.7L292.4 1289.2L301.7 1296.2L317.0 1302.8L320.0 1304.5L332.4 1314.9L342.6 1319.9L347.8 1323.4L355.4 1319.9L363.1 1317.7L378.5 1317.5L381.9 1319.9L384.7 1335.3L378.5 1343.0L375.4 1343.4M360.0 1350.6L359.7 1366.0M194.2 1266.1L191.2 1258.5L194.2 1256.4L198.8 1258.5L194.2 1266.1M1638.0 600.4L1635.7 597.9L1638.0 594.9M1638.0 554.9L1634.9 551.8L1627.2 536.4L1611.3 521.1L1607.3 518.8L1591.9 516.5L1576.6 515.9L1561.2 517.6L1545.8 523.9L1530.5 524.0L1515.1 523.8L1510.0 521.1L1515.1 513.4L1530.5 513.4L1534.0 505.7L1530.5 503.2L1515.1 503.2L1509.9 505.7L1499.8 513.3L1484.4 512.5L1469.0 509.8L1453.7 508.4L1450.7 505.7L1456.6 490.3L1453.7 487.8L1423.0 485.7L1407.6 487.9L1392.2 493.3L1376.9 496.7L1361.5 498.4L1330.8 500.3L1300.1 504.2L1295.9 505.7L1284.7 510.9L1269.4 514.4L1238.6 519.7L1223.3 525.3L1207.9 529.8L1192.6 532.7L1177.2 535.1L1146.5 543.3L1131.1 548.0L1120.4 551.8L1115.8 553.2L1100.4 556.9L1085.0 559.7L1069.7 564.0L1054.3 568.8L1039.0 572.6L1023.6 575.5L992.9 580.8L977.5 581.7L974.7 582.5L962.2 588.0L931.4 592.4L919.1 597.9L916.1 599.1L900.7 601.1L885.4 605.9L872.6 613.2L870.0 614.4L854.6 616.9L839.3 621.5L826.5 628.6L823.9 629.8L808.6 630.8L793.2 631.0L784.0 628.6L777.8 627.4L762.5 638.4L747.1 643.1L731.8 647.5L716.4 648.1L685.7 644.9L655.0 644.8L639.6 645.7L624.2 648.8L608.9 650.2L593.5 652.8L579.9 659.3M547.4 669.6L532.1 670.1L516.7 669.4L501.4 669.4L486.0 668.4L470.6 665.3L458.5 659.3L455.3 658.1L449.7 659.3L439.9 662.5L424.6 661.2L409.2 656.2L393.8 649.2L383.5 644.0L378.5 641.3L363.1 634.9L347.8 630.2L345.1 628.6L332.4 619.5L321.6 613.2L301.7 602.9L293.0 597.9L271.0 585.5L266.7 582.5L255.6 573.5L248.5 567.1L240.2 558.3L224.9 542.9L219.4 536.4L209.5 526.6L205.1 521.1L191.7 505.7L180.3 490.3L178.8 489.1L163.4 484.1L148.1 478.1L132.7 475.9L130.9 475.0L117.4 461.5L102.0 461.0M102.0 458.9L117.4 458.6L131.7 444.2L132.7 443.4L141.9 428.9L136.6 413.5L132.7 405.2L127.8 398.2L117.4 384.2L115.3 382.8M104.1 367.4L102.9 352.1L102.0 351.6M102.0 1229.8L109.0 1227.7L117.4 1224.4L132.7 1223.3L142.1 1227.7L148.1 1229.6L151.6 1227.7L159.7 1212.4M194.2 1210.3L201.8 1212.4L209.5 1215.0L224.9 1215.1L232.6 1212.4L240.2 1210.2L255.6 1210.2L259.9 1212.4L271.0 1220.5L281.7 1227.7L286.3 1230.7L301.7 1238.1L310.8 1243.1L317.0 1249.5L332.4 1253.2L336.6 1258.5L332.4 1266.1L317.0 1267.5L315.4 1273.8L317.0 1275.4L332.4 1276.4L345.2 1289.2L347.8 1290.6L350.2 1289.2L353.4 1273.8L363.1 1266.5L373.2 1258.5L378.5 1255.7L393.8 1255.7L409.2 1261.6L424.6 1265.0L439.9 1267.2L455.3 1270.9L460.0 1273.8L481.5 1289.2L486.0 1291.8L501.4 1295.2L516.7 1296.6L547.4 1297.3L562.8 1298.1L578.2 1300.9L586.7 1304.5L593.5 1307.3L601.2 1304.5L608.9 1302.0L612.7 1304.5L624.2 1316.1L626.9 1319.9L626.8 1335.3L619.9 1350.6L616.5 1366.0M332.4 1233.0L328.9 1227.7L332.4 1225.5L334.8 1227.7L332.4 1233.0M1638.0 799.4L1633.9 797.6L1622.6 788.0L1607.3 784.8L1591.9 784.3L1588.6 782.2L1591.9 777.1L1607.3 774.5L1612.9 766.9L1619.3 751.5L1622.6 748.1L1630.3 751.5L1638.0 755.4M1576.6 764.2L1581.7 766.9L1576.6 770.2M1638.0 725.7L1634.2 720.8L1626.6 705.4L1622.6 702.5L1591.9 692.9L1588.6 690.0L1579.9 674.7L1576.6 671.7L1561.2 666.1L1545.8 661.8L1544.2 659.3L1543.7 644.0L1545.8 636.3L1548.3 628.6L1545.8 625.4L1530.5 616.3L1528.1 613.2L1518.4 597.9L1515.1 595.0L1499.8 588.7L1484.4 584.6L1478.7 582.5L1469.0 577.9L1453.7 575.2L1438.3 574.3L1423.0 572.6L1407.6 569.9L1404.3 567.1L1396.5 551.8L1394.9 536.4L1392.2 534.4L1388.1 536.4L1376.9 546.6L1367.9 551.8L1361.5 554.3L1354.8 551.8L1346.2 548.1L1330.8 545.5L1315.4 544.8L1300.1 545.1L1269.4 545.9L1254.0 546.6L1223.3 550.3L1218.9 551.8L1207.9 557.2L1192.6 560.4L1177.2 562.4L1161.8 565.3L1146.5 569.2L1115.8 576.3L1103.0 582.5L1100.4 583.3L1092.7 582.5L1085.0 581.3L1069.7 587.5L1054.3 591.8L1039.0 594.6L1023.6 596.6L1019.3 597.9L1008.2 602.5L992.9 605.8L962.2 610.2L946.8 611.9L931.4 612.1L928.9 613.2L916.1 621.5L900.7 625.1L885.4 627.4L870.0 634.5L854.6 639.2L839.3 642.8M808.6 654.4L793.2 656.8L783.6 659.3L777.8 660.5L747.1 662.6L731.8 663.8L716.4 664.0L701.0 661.7L685.7 660.4L670.3 658.5L639.6 658.6L637.2 659.3L624.2 666.4L608.9 663.1L593.5 664.5L578.2 673.9L576.6 674.7L565.4 690.0L562.8 692.5L547.4 697.0L532.1 696.4L520.8 690.0L516.7 688.9L512.1 690.0L501.4 694.7L470.6 690.9L424.6 691.0L421.3 690.0L409.2 684.1L393.8 679.1L383.0 674.7L363.1 665.8L351.6 659.3L332.4 649.9L317.0 640.8L301.7 632.3L286.3 622.8L273.5 613.2L255.6 603.6L240.2 591.5L229.2 582.5L224.9 578.9L209.5 568.8L208.5 567.1L203.5 551.8L194.2 538.3L180.5 521.1L178.8 519.2L163.4 506.9L148.1 498.2L132.7 492.0L128.4 490.3L117.4 485.4L102.0 481.7M102.0 447.3L117.4 442.0L132.7 429.7L133.2 428.9L127.0 413.5L117.4 401.9L106.9 398.2L102.0 394.8M693.4 1366.0L685.7 1361.6L655.0 1363.5L653.0 1366.0M528.3 1243.1L532.1 1245.6L547.4 1245.7L551.8 1243.1L547.4 1235.4L532.1 1220.1L516.7 1220.1L511.9 1227.7L516.7 1231.5L528.3 1243.1M102.0 1160.1L117.4 1163.3L132.7 1169.1L148.1 1172.1L163.4 1172.7L209.5 1173.0L221.8 1172.9M255.6 1172.7L271.0 1173.4L286.3 1174.5L301.7 1176.1L317.0 1177.3L347.8 1176.1L378.5 1175.3L393.8 1175.3L409.2 1175.6L424.6 1178.0L439.9 1179.3L442.6 1181.7L439.9 1189.3L437.0 1197.0L439.9 1199.8L455.3 1202.6L470.6 1208.6L486.0 1215.5L501.4 1218.6L510.6 1212.4L516.7 1209.7L532.1 1209.5L547.4 1209.7L551.1 1212.4L555.1 1227.7L562.8 1232.1L570.5 1227.7L578.2 1225.0L582.1 1227.7L589.3 1243.1L593.5 1245.5L599.8 1243.1L608.9 1238.5L624.2 1236.5L639.6 1236.5L655.0 1238.2L670.3 1240.7L673.2 1243.1L682.3 1258.5L685.7 1261.9L701.0 1270.7L703.7 1273.8L705.1 1289.2L703.4 1304.5L701.0 1312.2L698.4 1319.9L701.0 1327.6L702.0 1335.3L701.6 1350.6L701.5 1366.0M1591.9 999.5L1589.5 997.3L1589.4 981.9L1591.9 978.6L1599.6 981.9L1607.3 989.6L1610.7 997.3L1607.3 999.6L1591.9 999.5M1622.6 985.4L1615.0 981.9L1622.6 974.3L1625.9 981.9L1622.6 985.4M1638.0 961.0L1622.6 960.9L1607.3 957.1L1604.3 951.2L1604.6 935.9L1607.3 932.8L1622.6 927.8L1632.4 920.5L1638.0 917.7M1438.3 922.0L1436.5 920.5L1438.3 918.3L1441.4 918.0M1450.6 922.0L1438.3 922.0M1392.2 906.5L1390.6 905.1L1392.2 903.3L1394.0 905.1L1392.2 906.5M1469.0 877.7L1467.0 874.4L1466.8 859.0L1469.0 855.6L1472.1 859.0L1471.7 874.4L1469.0 877.7M1515.1 861.2L1512.3 859.0L1515.1 856.2L1517.4 859.0L1515.1 861.2M1607.3 861.6L1604.9 859.0M1453.7 846.0L1452.3 843.7L1453.7 841.7L1457.1 843.7L1453.7 846.0M1638.0 835.1L1627.8 828.3L1622.6 826.4L1607.3 825.2L1591.9 821.9L1576.6 817.3L1567.5 812.9L1545.8 802.9L1515.1 786.0L1499.8 774.0L1492.2 766.9L1484.4 759.0L1477.5 751.5L1469.0 740.8L1466.1 736.1L1463.1 720.8L1463.5 705.4L1466.2 690.0L1469.0 686.8L1490.9 674.7L1496.4 659.3L1499.8 651.6L1502.9 644.0L1501.7 628.6L1499.8 626.5L1484.4 621.8L1472.8 613.2L1469.0 611.5L1463.8 613.2L1453.7 618.9L1438.3 624.1L1429.0 628.6L1423.0 631.2L1407.6 626.1L1403.2 628.6L1392.2 637.0L1381.9 644.0L1376.9 646.6L1361.5 647.1L1346.2 645.8L1339.1 644.0L1330.8 639.5L1322.5 644.0L1315.4 645.9L1313.0 644.0L1315.4 636.3L1319.4 628.6L1304.2 613.2L1300.1 610.0L1275.7 597.9L1269.4 595.0L1254.0 592.0L1238.6 592.2L1223.3 595.2L1215.6 597.9L1207.9 601.0L1192.6 603.9L1183.0 597.9L1177.2 595.8L1146.5 595.7L1131.1 596.4L1100.4 597.1L1098.3 597.9L1089.4 606.7M1057.4 615.9L1054.3 616.4L1039.0 620.9L1026.2 628.6L1023.6 630.0L992.9 638.0L977.5 641.7L970.7 644.0L962.2 647.4L946.8 650.8L931.4 652.3L900.7 654.2L870.0 657.9L866.5 659.3L854.6 667.0L823.9 678.4L808.6 680.0L777.8 678.7L762.5 678.3L747.1 677.4L731.8 677.6L716.4 680.1L703.7 674.7L701.0 674.0L670.3 673.8L668.7 674.7L670.3 679.2L680.9 690.0L685.7 698.1L687.4 705.4L687.0 720.8L685.7 722.2L678.0 720.8L670.3 716.4L662.6 720.8L655.0 723.0L639.6 725.4L624.2 726.2L608.9 726.5L593.5 727.8L578.2 731.4L568.0 736.1L562.8 737.8L532.1 740.2L516.7 740.1L501.4 739.5L496.7 736.1L486.0 726.0L483.4 720.8L472.3 705.4L470.6 704.6L455.3 704.6L439.9 706.2L409.2 706.1L393.8 706.2L363.1 707.4L358.4 705.4L347.8 699.8L332.4 692.3L330.1 690.0L319.5 674.7L317.0 672.7L301.7 665.1L291.4 659.3L271.0 648.4L255.6 639.3L240.2 630.7L238.0 628.6L227.0 613.2L224.9 611.3L209.5 599.6L208.2 597.9L194.2 583.8L193.5 582.5L192.2 567.1L184.8 551.8L178.8 543.4L172.7 536.4L163.4 527.2L156.0 521.1L148.1 515.6L132.7 507.1L117.4 500.9L102.0 497.2M486.0 752.8L485.2 751.5L486.0 747.3L489.1 751.5L486.0 752.8M592.6 674.7L593.5 676.8L608.9 677.1L610.2 674.7L608.9 674.0L593.5 674.1L592.6 674.7M1508.7 674.7L1515.1 677.1L1517.1 674.7L1516.7 659.3L1515.1 656.2L1507.4 659.3L1508.7 674.7M1085.0 645.0L1083.8 644.0L1085.0 641.3L1086.8 644.0L1085.0 645.0M1100.4 630.4L1097.7 628.6L1100.4 622.8L1115.8 624.8L1117.3 628.6L1115.8 629.8L1100.4 630.4M1177.2 615.1L1174.7 613.2L1177.2 605.6L1181.5 613.2L1177.2 615.1M102.0 438.0L117.4 429.6L118.3 428.9L118.2 425.8M1192.6 1182.1L1192.6 1182.1M314.8 1150.9L317.0 1152.2L320.4 1150.9L317.0 1143.2L314.8 1150.9M977.5 1120.4L977.5 1120.4M393.8 1110.8L391.4 1104.8L393.8 1103.0L396.9 1103.1M421.5 1103.4L439.9 1104.0L455.3 1104.0L457.0 1104.8L455.3 1109.3L439.9 1112.5L409.2 1112.5L393.8 1110.8M1284.7 1105.8L1283.8 1104.8L1284.7 1103.2L1300.1 1102.6L1315.4 1102.3L1330.8 1102.8L1332.8 1104.8L1330.8 1107.3L1315.4 1107.2L1284.7 1105.8M102.0 1097.5L117.4 1097.7L132.7 1098.9L148.1 1102.2L163.4 1108.3L178.8 1112.1L194.2 1113.6L209.5 1113.7L240.2 1112.9L255.6 1113.8L271.0 1117.2L286.3 1123.6M317.0 1132.7L332.4 1140.4L347.8 1140.1L363.1 1137.9L370.8 1135.6L378.5 1132.1L386.2 1135.6L393.8 1137.6L398.3 1135.6L409.2 1124.6L424.6 1123.8L439.9 1125.1L450.4 1135.6L455.3 1138.5L470.6 1145.0L480.6 1150.9L486.0 1153.4L501.4 1148.3L509.0 1150.9L516.7 1153.8L532.1 1153.8L539.8 1150.9L547.4 1148.3L562.8 1153.5L578.2 1148.4L593.5 1149.0L597.3 1150.9L608.9 1158.4L624.2 1164.2L628.5 1166.3L639.6 1174.1M652.4 1197.0L655.0 1199.0L661.4 1197.0L670.3 1192.4L685.7 1194.8L688.8 1197.0L697.9 1212.4L701.0 1214.9L731.8 1224.9L735.0 1227.7L743.8 1243.1L747.1 1247.1L762.5 1255.6L763.9 1258.5L762.5 1263.3L757.1 1273.8L762.5 1284.3L763.4 1289.2L717.3 1335.3L716.4 1336.5L710.4 1350.6L708.7 1366.0M1238.6 1059.7L1238.1 1058.8L1238.6 1057.7L1239.9 1058.8L1238.6 1059.7M1638.0 1064.3L1622.6 1061.6L1618.7 1058.8L1610.5 1043.4L1607.3 1041.2L1599.6 1043.4L1591.9 1046.3L1584.2 1043.4L1576.6 1040.8L1561.2 1045.9L1557.4 1043.4L1545.8 1031.9L1543.0 1028.0L1539.6 1012.7L1538.1 997.3L1537.2 981.9L1534.9 966.6L1533.5 951.2L1532.7 935.9L1530.5 935.0L1526.0 935.9L1522.8 951.2L1515.1 954.3L1509.0 951.2L1504.3 935.9L1499.8 932.7L1496.3 935.9L1490.5 951.2L1484.4 953.2L1469.0 948.0L1453.7 949.0L1445.1 951.2L1438.3 952.7L1433.0 951.2L1423.0 946.8L1407.6 940.8M1376.9 928.3L1361.5 922.5L1359.3 920.5L1351.5 905.1L1341.5 889.8L1330.8 877.5L1328.6 874.4L1324.5 859.0L1315.4 847.5L1313.6 843.7L1313.5 828.3L1315.4 827.5L1319.3 828.3L1330.8 839.0L1346.2 838.6L1361.5 840.6L1369.2 843.7L1373.5 859.0L1376.9 861.4L1380.3 859.0L1384.6 843.7L1392.2 840.2L1407.6 835.0L1423.0 832.0L1425.2 828.3L1425.3 812.9L1423.0 810.5L1407.6 803.0L1403.0 797.6L1392.2 786.3L1389.8 782.2L1392.2 777.1L1399.0 766.9L1407.6 755.9L1409.9 751.5L1407.6 747.7L1396.0 736.1L1392.2 733.2L1376.9 730.9L1361.5 730.6M1353.4 736.1L1349.4 751.5L1346.2 754.2L1338.5 751.5L1330.8 745.7L1326.9 751.5L1319.2 766.9L1315.4 769.3L1300.1 769.4L1295.7 766.9L1284.7 758.3L1269.4 747.5L1254.0 739.1L1250.3 736.1L1241.8 720.8L1238.6 718.4L1223.3 723.3L1207.9 723.4L1192.6 722.8L1177.2 722.5L1174.3 720.8L1180.2 705.4L1177.2 702.7L1161.8 702.1L1154.2 705.4L1146.5 707.8L1131.1 707.4L1129.3 705.4L1129.4 690.0L1131.1 685.8L1140.8 674.7L1146.5 665.4L1150.4 659.3L1161.8 647.9L1164.0 644.0L1161.8 641.9L1146.5 641.5L1131.1 642.2L1115.8 653.6L1100.4 656.8L1094.6 659.3L1085.0 664.1L1071.7 674.7L1070.5 690.0L1069.7 692.0L1056.3 705.4L1054.3 708.3L1041.8 720.8L1039.0 722.3L1037.9 720.8L1037.4 705.4L1035.9 690.0L1039.0 682.4L1044.0 674.7L1044.6 659.3L1054.3 649.6L1056.6 644.0L1054.3 642.3L1039.0 642.8L1037.1 644.0L1023.6 657.4L1021.1 659.3L1014.8 674.7L1008.2 677.5L995.5 690.0L992.9 691.2L978.7 705.4L977.5 706.2L973.7 705.4L962.2 698.4L946.8 698.2L931.4 699.9L920.8 705.4L916.1 707.0L908.9 705.4L900.7 702.4L885.4 702.9L881.8 705.4L872.2 720.8L870.0 721.6L839.3 721.2L838.2 720.8L823.9 707.2L808.6 706.3L793.2 698.3L777.8 693.1L762.5 692.2L747.1 689.3L734.8 689.3M716.4 703.7L714.8 705.4L712.7 720.8L705.3 736.1L701.0 741.5L685.7 749.5L681.6 751.5L685.7 759.2L688.0 766.9L685.7 768.4L681.1 766.9L670.3 759.8L655.0 760.7L639.6 761.2L624.2 761.5L608.9 762.0L593.5 764.0L584.8 766.9L578.2 768.7L562.8 765.2L547.4 765.4L544.3 766.9L547.4 774.5L550.0 782.2L534.7 797.6L532.1 800.1L516.7 800.5L510.4 797.6L501.4 792.3L486.0 788.2L470.6 784.9L455.3 783.8L454.3 782.2L455.3 780.4L470.6 774.5L472.8 766.9L471.5 751.5L470.6 748.7L464.0 736.1L456.7 720.8L455.3 719.9L439.9 719.9L424.6 718.4L409.2 717.7L393.8 720.0L392.0 720.8L379.5 736.1L364.3 751.5L363.1 752.4L360.1 751.5L347.8 741.5L337.6 736.1L332.4 733.3L317.0 723.6L314.2 720.8L304.0 705.4L301.7 703.2L286.3 695.6L276.6 690.0L255.6 678.6L240.2 667.7L224.9 656.5L209.5 646.4L207.6 644.0L202.6 628.6L196.0 613.2L194.2 610.5L181.8 582.5L179.6 567.1L167.0 551.8L163.4 547.8L150.7 536.4L134.0 521.1L132.7 520.3L102.0 509.7M578.2 906.1L577.2 905.1L578.2 902.4L580.2 905.1L578.2 906.1M1498.1 905.1L1499.8 908.3L1501.7 905.1L1499.8 903.2L1498.1 905.1M1420.9 889.8L1423.0 891.6L1425.1 889.8L1425.6 880.5M1420.5 880.5L1420.9 889.8M455.3 874.9L454.4 874.4L454.4 859.0L469.7 843.7L470.6 841.9L486.0 841.1L490.2 843.7L486.0 847.3L474.3 859.0L471.6 874.4L470.6 874.8L455.3 874.9M532.1 874.7L531.2 874.4L516.7 860.0L501.4 860.0L497.7 859.0L501.4 854.8L516.7 855.6L547.4 856.0L562.8 856.7L566.1 859.0L578.2 871.1L580.4 874.4L578.2 877.1L562.8 875.6L547.4 874.8L532.1 874.7M1438.3 862.0L1439.6 859.0L1438.3 857.0M624.2 814.3L622.7 812.9L624.2 810.5L639.6 810.5L641.1 812.9L639.6 813.8L624.2 814.3M1327.9 720.8L1330.8 726.5L1333.9 726.9M1338.7 707.9L1336.3 705.4L1335.8 690.0L1346.2 679.7L1348.2 674.7L1346.2 673.2L1330.8 673.1L1328.4 674.7L1327.8 690.0L1327.7 705.4L1327.9 720.8M1068.0 628.6L1069.7 630.9L1070.9 628.6L1069.7 627.8L1068.0 628.6M102.0 429.4L102.9 428.9L102.0 427.9M1638.0 1203.8L1622.6 1207.4L1613.9 1212.4L1607.3 1215.0L1591.9 1214.6L1589.1 1212.4L1576.6 1199.8L1574.3 1197.0L1576.6 1189.3L1591.9 1187.5L1595.4 1181.7L1591.9 1177.6L1576.6 1174.0L1568.9 1166.3L1561.2 1162.0L1553.5 1166.3L1545.8 1168.8L1542.2 1166.3L1534.7 1150.9L1530.5 1148.4L1515.1 1153.6L1509.3 1150.9L1499.8 1145.9L1484.4 1140.0L1475.4 1135.6L1469.0 1132.8L1453.7 1132.9L1450.8 1135.6L1446.2 1150.9L1440.8 1166.3L1438.3 1167.8L1423.0 1168.8L1407.6 1172.0L1392.2 1178.7L1388.7 1181.7L1378.4 1197.0L1377.5 1212.4L1376.9 1212.9L1361.5 1212.9L1360.6 1212.4L1330.8 1182.6L1330.3 1181.7L1329.8 1166.3L1315.4 1151.9L1300.1 1136.7L1284.7 1123.1L1268.2 1104.8L1254.0 1090.7L1238.6 1075.2L1228.6 1058.8L1230.5 1043.4L1223.3 1031.8L1218.5 1028.0L1207.9 1017.4L1192.6 1017.7L1183.4 1028.0L1178.5 1043.4L1177.2 1044.3L1161.8 1043.8L1146.5 1043.8L1146.0 1043.4L1145.3 1028.0L1131.1 1013.9L1115.8 1013.6L1114.6 1012.7L1115.8 1010.9L1129.4 997.3L1131.1 996.5L1133.7 997.3L1146.5 1010.1L1161.8 1009.4L1177.2 1009.3L1192.6 1009.0L1207.9 1006.9L1217.6 997.3L1223.3 992.3L1233.6 981.9L1238.6 977.5L1242.2 981.9L1248.2 997.3L1254.0 1004.3L1269.4 1006.3L1278.3 997.3L1284.7 994.8L1288.8 997.3L1300.1 1008.6L1315.4 1021.3L1324.3 1028.0L1330.8 1032.6L1346.2 1040.3L1349.0 1043.4L1350.1 1058.8L1346.2 1066.4L1344.0 1074.1L1346.2 1076.2L1361.5 1077.0L1376.9 1076.9L1381.5 1074.1L1392.2 1065.9L1402.6 1058.8L1407.6 1055.5L1431.5 1043.4L1438.3 1039.6L1453.7 1032.2L1457.1 1028.0L1463.8 1012.7L1469.0 1003.4L1471.7 997.3L1471.4 981.9L1469.0 980.1L1453.7 980.0L1438.3 980.1L1432.1 981.9L1423.0 986.1L1407.6 987.5L1392.2 984.8L1387.6 981.9L1376.9 974.1L1368.1 966.6L1361.5 961.5L1349.6 951.2L1346.2 948.8L1330.8 939.9L1325.8 935.9L1315.4 924.8L1310.7 920.5L1315.4 912.8L1317.1 905.1L1315.4 903.2L1307.8 905.1L1300.1 909.9L1284.7 908.4L1269.4 907.8L1267.1 905.1L1269.4 903.1L1284.7 900.2L1291.5 889.8L1292.4 874.4L1287.3 859.0L1284.7 854.1L1276.7 843.7L1269.4 832.7L1265.9 828.3L1260.2 812.9L1256.7 797.6L1254.0 794.8L1238.6 792.7L1230.7 797.6L1223.3 801.6L1218.2 797.6L1223.3 789.9L1227.9 782.2L1223.3 777.3L1214.6 766.9L1210.2 751.5L1207.9 750.1L1203.2 751.5L1192.6 758.4L1177.2 755.9L1167.7 751.5L1161.8 749.4L1146.5 745.8L1131.1 743.8L1100.4 741.2L1092.1 736.1L1088.7 720.8L1088.8 705.4L1100.4 693.8L1102.0 690.0L1102.0 674.7L1100.4 673.7L1099.0 674.7L1085.0 688.7L1084.2 690.0L1082.5 736.1L1085.0 743.8L1089.5 751.5L1085.0 755.2L1073.4 766.9L1069.7 769.4L1039.0 767.9L1038.4 766.9L1023.6 752.0L1023.1 751.5L1022.8 736.1L1021.7 720.8L1009.9 705.4L1008.2 704.2L1005.3 705.4L992.9 708.3L977.5 719.1L972.7 720.8L963.1 736.1L962.2 737.1L946.8 737.1L941.3 736.1L931.4 732.9L916.1 734.4L910.8 736.1L900.7 742.5L885.4 745.9L874.1 736.1L870.0 735.3L854.6 733.4L839.3 728.5L823.9 723.0L808.6 721.6L800.9 720.8L793.2 719.4L779.2 705.4L777.8 704.7L762.5 704.7L760.8 705.4L760.2 720.8L762.5 724.1L777.8 728.5L779.3 736.1L778.7 751.5L780.1 766.9L793.2 780.2L808.6 781.2L823.9 781.3L839.3 780.9L853.3 766.9L854.6 766.0L862.3 766.9L870.0 770.7L877.7 766.9L885.4 760.9L889.2 766.9L900.7 778.4L902.1 782.2L900.7 783.0L886.2 797.6L885.4 800.4L872.8 812.9L870.0 815.9L854.6 817.3L839.3 803.3L823.9 798.4L808.6 798.0L793.2 798.0L790.6 797.6L777.8 785.2L762.5 793.5L757.7 797.6L747.1 808.9L744.5 812.9L747.1 817.4L762.5 825.6L764.2 828.3L762.5 836.0L757.7 843.7L762.5 851.4L777.8 853.9L783.0 848.8M808.6 842.4L812.3 843.7L796.7 859.0L793.2 861.2L762.5 861.3L754.8 859.0L747.1 854.2L740.3 859.0L716.4 869.0L706.6 874.4L701.0 876.9L693.4 874.4L685.7 871.4L670.3 871.3L664.6 874.4L655.0 881.6L647.4 889.8L639.6 899.9L636.6 905.1L628.2 932.8M611.3 957.4L608.9 960.5L601.2 966.6L616.6 981.9L618.3 997.3L624.2 1000.6L631.9 997.3L631.9 981.9L639.6 979.1L642.5 981.9L645.2 997.3L655.0 1005.0L661.9 1012.7L670.3 1021.4L685.7 1039.5L688.3 1043.4L691.7 1058.8L701.0 1069.6L702.8 1074.1L702.0 1089.5L700.5 1089.5L685.7 1074.7L655.0 1074.5L624.2 1043.8L608.9 1043.7L608.4 1043.4L607.7 1028.0L600.2 1012.7L593.5 1003.7L584.4 1012.7L578.2 1013.6L577.2 1012.7L577.2 966.6L578.2 964.8L591.4 951.2L578.2 937.6L575.7 920.5L562.8 906.2L562.1 905.1L559.7 889.8L547.4 882.1L532.1 879.6L516.7 874.8L486.0 874.8L470.6 881.4L455.3 882.5L439.9 875.3L409.2 874.8L408.3 874.4L409.2 872.5L422.6 859.0L424.6 858.1L439.9 858.6L454.8 843.7L455.3 835.3L456.9 828.3L451.1 812.9L439.9 799.6L438.7 797.6L437.6 782.2L439.9 772.6L441.4 766.9L442.2 751.5L441.2 736.1L439.9 735.2L424.6 733.1L409.2 727.1L396.2 736.1L393.8 741.1L385.1 751.5L378.5 758.0L365.3 766.9L363.1 768.4L347.8 773.3L334.6 782.2L332.4 783.0L301.7 784.8L286.3 785.8L282.6 782.2L290.0 766.9L288.9 751.5L286.3 748.1L274.4 736.1L271.0 733.6L255.6 728.8L240.2 723.2L238.5 720.8L231.3 705.4L224.9 698.5L214.2 690.0L209.5 686.9L194.2 679.9L178.8 676.3L177.5 674.7L178.0 644.0L178.0 628.6L177.6 613.2L172.9 597.9L167.7 582.5L164.4 567.1L163.4 566.1L148.1 555.3L125.3 536.4L117.4 531.1L103.5 521.1L102.0 520.4M1192.6 1189.8L1187.1 1181.7L1191.6 1166.3L1192.6 1165.5L1200.7 1181.7L1192.6 1189.8M1572.3 1150.9L1576.6 1158.6L1579.3 1150.9L1576.6 1148.6L1572.3 1150.9M1638.0 1163.3L1622.6 1163.6L1619.4 1166.3L1622.6 1170.0L1638.0 1170.5M977.5 1124.3L975.0 1120.2L977.5 1117.7L980.1 1120.2L977.5 1124.3M1281.2 1074.1L1284.7 1075.8L1286.9 1074.1L1287.7 1058.8L1288.1 1043.4L1284.7 1037.6L1275.1 1028.0L1269.4 1020.3L1254.0 1021.1L1249.5 1028.0L1250.5 1043.4L1254.0 1045.8L1269.4 1048.9L1279.3 1058.8L1281.2 1074.1M424.6 1066.4L421.0 1058.8L424.6 1056.9L427.0 1058.8L424.6 1066.4M1466.2 1058.8L1469.0 1061.0L1471.3 1058.8L1469.0 1055.6L1466.2 1058.8M102.0 1050.8L117.4 1051.0L132.7 1051.9L148.1 1054.7L157.1 1058.8L163.4 1061.2L171.1 1058.8L178.8 1055.4L194.2 1053.4L201.8 1058.8L194.2 1066.4L191.0 1074.1M212.8 1058.8L209.5 1051.1L204.2 1043.4L206.7 1028.0L209.5 1026.2L213.7 1028.0L224.9 1037.1L240.2 1036.8L255.6 1035.4L271.0 1031.0L276.4 1028.0L286.3 1023.0L298.5 1012.7L301.7 1011.2L317.0 1011.1L319.5 1012.7L328.7 1028.0L332.4 1030.9L347.8 1036.7L363.1 1041.0L366.2 1043.4L375.1 1058.8L378.5 1061.6L393.8 1066.7L404.9 1074.1L409.2 1075.8L424.6 1076.2L437.8 1089.5L439.9 1090.3L455.3 1090.3L460.0 1089.5L470.6 1084.2L486.0 1084.8L501.4 1086.5L516.7 1087.9L532.1 1088.4L578.2 1089.0L579.1 1089.5L594.4 1104.8L599.1 1120.2L608.9 1128.5L624.2 1134.7M652.6 1145.9L655.0 1148.0L670.3 1150.0L685.7 1163.3L701.0 1165.4L716.4 1163.0L731.8 1149.4L747.1 1146.8L762.5 1147.5L777.8 1149.6L793.2 1165.1L794.1 1166.3L794.2 1212.4L794.1 1243.1L793.7 1258.5L793.2 1259.4L779.6 1273.8L778.3 1289.2L762.9 1304.5L747.7 1319.9L747.1 1320.8L732.7 1335.3L731.8 1335.7L718.5 1350.6L716.0 1366.0M585.8 981.9L593.5 989.5L601.2 981.9L593.5 974.3L585.8 981.9M1085.0 952.0L1083.2 951.2L1069.7 937.7L1039.0 936.7L1023.6 936.6L1022.4 935.9L1008.2 921.7L1006.7 920.5L1005.4 911.3M1008.2 897.4L1015.9 889.8L1023.6 886.7L1027.5 889.8L1039.0 901.2L1042.3 905.1L1047.3 920.5L1054.3 929.0L1069.7 932.3L1085.0 933.4L1088.2 935.9L1100.4 948.1M1131.1 949.1L1133.1 951.2L1131.1 952.7M1103.5 952.6L1085.0 952.0M1223.3 954.9L1220.9 951.2L1223.3 948.7M1226.4 955.1L1223.3 954.9M977.5 891.9L973.7 889.8L977.5 882.1L992.9 884.6L1000.6 889.8M1146.5 892.3L1143.5 889.8L1131.1 877.4L1128.1 874.4L1115.8 851.4L1100.4 847.5L1085.0 846.6L1081.0 843.7L1069.7 832.4L1066.9 828.3L1067.8 812.9L1069.7 810.9L1085.0 810.4L1100.4 811.4L1101.2 812.9L1103.2 828.3L1115.8 840.9L1131.1 839.7L1143.9 828.3L1146.5 827.0L1161.8 826.1L1169.5 828.3L1177.2 830.9L1184.0 828.3L1192.6 821.6L1207.9 823.1L1223.3 838.5L1226.3 843.7L1226.0 859.0L1223.3 864.9L1218.0 874.4L1211.0 889.8L1207.9 892.6L1192.6 895.6L1180.3 896.6M962.2 867.2L969.8 874.4L962.2 878.2L959.1 878.0M621.9 859.0L624.2 861.7L628.8 859.0L639.6 848.2L642.6 843.7L642.3 828.3L639.6 827.5L637.4 828.3L624.2 841.5L621.6 843.7L621.9 859.0M977.5 866.7L970.3 859.0L974.9 843.7L977.5 842.8L992.9 842.4L1008.2 841.5L1021.4 828.3L1023.6 827.1L1026.2 828.3L1026.4 843.7L1023.6 846.8L1008.2 847.8L992.9 850.0L983.8 859.0L977.5 866.7M393.8 844.8L393.2 843.7L393.8 842.9L394.7 843.7L393.8 844.8M946.8 849.7L944.9 843.7L946.8 842.8L949.5 843.7L946.8 849.7M823.9 832.0L822.7 828.3L823.9 827.5L839.3 823.5L843.6 828.3L839.3 831.1L823.9 832.0M561.1 812.9L562.8 815.1L578.2 815.6L593.5 815.6L595.3 812.9L593.5 810.0L581.1 797.6L578.2 796.1L575.9 797.6L562.8 810.7L561.1 812.9M668.4 812.9L670.3 815.5L674.1 812.9L670.3 810.1L668.4 812.9M1313.5 812.9L1315.4 813.8L1317.1 812.9L1315.4 811.0L1313.5 812.9M271.0 799.2L269.1 797.6L271.0 793.8L274.6 797.6L271.0 799.2M682.8 797.6L685.7 801.4L688.8 801.2M685.7 795.8L682.8 797.6M1192.6 803.4L1190.2 797.6L1192.6 794.5L1197.6 797.6L1192.6 803.4M240.2 768.4L239.3 766.9L240.2 764.8L242.9 766.9L240.2 768.4M1637.1 1366.0L1637.1 1350.6L1638.0 1349.6M1638.0 1305.6L1591.9 1259.4L1561.2 1228.8L1545.8 1213.3L1530.5 1212.8L1529.6 1212.4L1515.1 1197.9L1484.4 1197.6L1469.0 1197.9L1465.9 1197.0L1453.7 1190.7L1438.3 1191.2L1425.8 1197.0L1423.0 1197.6L1407.6 1197.9L1392.2 1205.0L1387.9 1212.4L1376.9 1221.7L1361.5 1221.5L1346.2 1212.8L1330.3 1197.0L1321.6 1181.7L1315.4 1169.1L1313.4 1166.3L1300.1 1154.0L1290.6 1150.9L1284.7 1147.0L1272.8 1135.6L1269.4 1131.1L1265.6 1120.2L1254.0 1108.2L1245.1 1104.8L1238.6 1096.9L1236.2 1089.5L1226.6 1074.1L1223.3 1068.0L1216.3 1058.8L1207.9 1049.8L1192.6 1047.6L1178.1 1058.8L1176.3 1058.8L1161.8 1051.5L1146.5 1051.5L1138.1 1043.4L1131.1 1031.9L1114.1 1028.0L1100.4 1018.1L1086.7 1028.0L1085.0 1028.5L1084.1 1028.0L1068.8 1012.7L1069.7 1010.1L1082.5 997.3L1085.0 991.0L1100.4 984.9L1115.8 983.5L1131.1 982.8L1146.5 983.2L1148.3 981.9L1146.5 979.9L1115.8 980.2L1100.4 979.8L1087.1 966.6L1085.0 965.8L1072.8 965.2M1029.7 949.6L1023.6 949.0L1008.2 941.2L999.3 935.9L992.9 930.9L977.5 923.5L962.2 921.3L931.4 920.9L916.1 921.2L914.3 920.5L900.7 906.9L895.9 905.1L885.4 899.8L870.0 896.7L854.6 896.1L823.9 897.3L793.2 898.9L777.8 899.9L762.5 902.3L747.1 902.9L744.8 905.1L747.1 912.8L750.3 920.5L747.1 928.2L744.2 935.9L744.3 951.2L747.1 955.8L762.5 963.1L765.0 966.6L764.9 981.9L762.5 983.8L747.1 984.8L731.8 990.6L716.4 994.5L713.9 997.3L714.1 1012.7L716.4 1016.2L731.8 1032.0L747.1 1041.1L748.8 1043.4L748.9 1058.8L747.1 1065.4L743.5 1074.1L741.7 1089.5L747.1 1094.1L762.5 1102.9L777.8 1118.5L785.7 1135.6L793.2 1143.6L808.6 1164.9L809.5 1166.3L810.7 1181.7L811.2 1197.0L810.8 1212.4L809.5 1227.7L808.8 1243.1L786.0 1289.2L770.6 1304.5L762.5 1314.9L757.4 1319.9L747.6 1335.3L747.1 1336.2L731.8 1343.0L724.9 1350.6L723.6 1366.0M1192.6 1197.5L1182.0 1181.7L1177.2 1167.2L1176.7 1166.3L1161.8 1151.4L1160.9 1150.9L1160.9 1135.6L1161.8 1134.6L1177.2 1135.0L1178.7 1135.6L1181.9 1150.9L1192.6 1152.7L1201.8 1166.3L1207.9 1180.4L1208.4 1181.7L1207.9 1182.6L1193.5 1197.0L1192.6 1197.5M977.5 1128.1L972.6 1120.2L977.5 1115.3L982.6 1120.2L977.5 1128.1M1238.6 1121.0L1237.8 1120.2L1238.6 1116.8L1239.5 1120.2L1238.6 1121.0M114.9 997.3L117.4 999.6L120.9 997.3L117.4 994.9L114.9 997.3M144.6 997.3L148.1 999.6L152.1 997.3L148.1 993.4L144.6 997.3M486.0 1000.1L484.6 997.3L486.0 996.7L486.7 997.3L486.0 1000.1M823.9 984.2L821.9 981.9L823.9 980.4L839.3 980.5L841.1 981.9L839.3 984.2L823.9 984.2M209.5 956.4L206.3 951.2L209.5 949.4L211.6 951.2L209.5 956.4M102.0 926.0L112.5 920.5L117.4 919.0L121.4 920.5L132.7 927.8L148.1 933.5L163.4 934.3L165.7 935.9L163.4 943.5L160.3 951.2L163.4 957.8L178.8 962.5L183.9 966.6L178.8 974.3L163.4 975.4L159.6 981.9L163.4 985.9L178.8 985.1L194.2 984.8L201.8 981.9L209.5 976.7L224.9 978.9L228.0 981.9L221.7 997.3L224.9 999.2L240.2 999.3L255.6 994.4L271.0 992.5L286.3 989.3L301.7 985.3L312.0 981.9L317.0 980.5L321.5 981.9L332.4 987.0L357.5 997.3L363.1 999.8L378.5 1004.8L393.8 1010.1L409.2 1016.5L418.4 1018.6M461.4 1022.2L470.6 1022.5L486.0 1025.2L488.1 1028.0L492.3 1043.4L499.1 1058.8L501.4 1060.2L516.7 1064.5L532.1 1070.6L547.4 1073.5L562.8 1078.8L578.2 1081.3L594.4 1089.5L609.8 1104.8L623.0 1120.2L624.2 1121.0L639.6 1124.4L655.0 1131.2L670.3 1134.9L685.7 1146.9L701.0 1150.5L716.0 1135.6L716.4 1134.6L730.8 1120.2L730.7 1104.8L716.4 1091.6L701.0 1094.7L691.3 1089.5L685.7 1083.8L655.0 1081.1L639.6 1065.7L624.2 1050.6L608.9 1048.6L600.6 1043.4L593.5 1031.9L578.2 1028.6L577.2 1028.0L562.8 1013.7L547.4 1013.6L546.5 1012.7L561.3 997.3L562.1 981.9L561.9 966.6L562.8 965.8L573.0 951.2L570.5 935.9L562.8 923.2L558.5 920.5L550.0 905.1L548.1 889.8L532.1 884.5L516.7 882.1L486.0 882.1L470.6 888.0L455.3 890.2L439.9 890.3L424.6 885.0L409.2 882.1L393.8 875.1L392.9 874.4L389.8 859.0L382.2 843.7L393.8 829.3L408.4 843.7L409.2 845.1L416.4 843.7L424.6 835.5L425.5 843.7L439.9 851.4L447.6 843.7L439.9 830.8L428.1 828.3L425.9 812.9L424.6 810.4L414.4 797.6L411.1 782.2L411.0 751.5L410.3 736.1L409.2 735.6L408.5 736.1L407.8 751.5L378.5 780.8L376.5 782.2L363.1 795.6L332.4 796.8L330.7 797.6L320.5 812.9L317.0 814.2L302.9 828.3L301.7 829.2L255.6 829.2L240.2 814.0L239.0 812.9L233.6 797.6L224.9 784.8L224.0 782.2L222.9 766.9L222.3 751.5L218.3 736.1L211.1 720.8L209.5 719.0L194.2 711.5L178.8 706.6L177.0 705.4L163.4 692.1L148.1 676.4L147.2 674.7L158.4 659.3L163.4 646.9L164.3 644.0L164.5 628.6L164.2 613.2L157.3 597.9L149.7 582.5L148.1 580.1L135.8 567.1L117.4 553.1L115.3 551.8L103.2 536.4L102.0 535.5M1114.0 920.5L1115.8 921.8L1117.8 920.5L1117.6 905.1L1115.8 903.5L1113.5 905.1L1114.0 920.5M1267.5 874.4L1269.4 875.8L1270.5 874.4L1269.4 872.9L1267.5 874.4M347.8 814.0L344.3 812.9L347.8 805.3L363.1 805.3L365.8 812.9L363.1 814.4L347.8 814.0M776.7 812.9L777.8 814.6L793.2 825.5L808.6 824.7L823.9 813.8L824.9 812.9L823.9 812.1L808.6 805.3L793.2 805.3L777.8 811.7L776.7 812.9M913.7 812.9L916.1 815.8L931.4 825.2L946.8 827.7L977.5 827.9L992.5 812.9L992.9 812.7L1008.2 812.0L1023.6 807.0L1036.3 797.6L1036.5 782.2L1029.5 766.9L1023.6 761.0L1015.5 751.5L1009.3 736.1L1009.0 720.8L1008.2 719.9L992.9 720.1L991.9 720.8L980.0 736.1L977.5 737.4L963.1 751.5L946.8 751.9L931.8 766.9L931.8 797.6L931.4 799.4L916.1 808.1L913.7 812.9M1114.9 812.9L1115.8 814.1L1131.1 814.1L1133.3 812.9L1146.5 799.8L1148.4 797.6M1112.9 794.5L1112.7 797.6L1114.9 812.9M899.9 797.6L900.7 800.0L905.6 797.6L900.7 796.8L899.9 797.6M1048.1 797.6L1054.3 799.1L1055.7 797.6L1054.3 796.1L1048.1 797.6M792.4 751.5L793.2 752.9L808.6 764.9L823.9 766.4L854.6 752.3L855.8 751.5L840.4 736.1L839.3 735.7L823.9 733.8L808.6 735.3L806.7 736.1L793.2 749.7L792.4 751.5M1622.4 1366.0L1622.4 1350.6L1622.6 1349.7L1635.3 1335.3L1635.2 1319.9L1622.6 1305.5L1591.0 1273.8L1576.6 1261.3L1572.0 1258.5L1561.2 1247.8L1558.3 1243.1L1545.8 1228.7L1544.9 1227.7L1515.1 1212.9L1499.8 1208.9L1484.4 1206.7L1470.4 1212.4L1469.0 1212.8L1453.7 1213.3L1423.0 1207.4L1409.2 1212.4L1392.2 1219.3L1381.6 1227.7L1376.9 1234.2L1363.4 1243.1L1361.5 1244.0L1358.0 1227.7L1346.2 1220.5L1322.7 1197.0L1315.4 1185.3L1311.3 1181.7L1300.8 1166.3L1300.1 1165.6L1296.2 1166.3L1285.8 1181.7L1283.8 1181.7L1254.0 1151.8L1253.0 1150.9L1241.6 1135.6L1238.6 1134.7L1224.1 1120.2L1224.4 1104.8L1224.0 1089.5L1215.4 1074.1L1207.9 1065.1L1192.6 1059.2L1177.2 1063.3L1161.8 1059.1L1146.5 1059.1L1145.6 1058.8L1131.1 1045.1L1129.7 1043.4L1115.8 1035.5L1100.4 1033.5L1085.0 1036.2L1069.7 1029.1L1054.3 1013.6L1054.0 1012.7L1053.4 997.3L1038.0 981.9L1025.6 966.6L1023.6 965.5L1008.2 960.6L994.7 951.2L992.9 950.1L977.5 947.1L964.0 935.9L962.2 935.0L946.8 933.5L931.4 928.2L916.1 932.9L900.7 933.5L885.4 933.8L870.0 933.5L854.6 933.6L850.3 935.9L839.3 946.9L823.9 948.1L808.6 948.7L806.5 951.2L808.6 953.3L823.9 953.1L839.3 953.1L854.6 953.8L870.0 955.8L885.4 962.5L888.6 966.6L900.7 978.7L901.9 981.9L886.7 997.3L885.4 998.2L840.2 1043.4L839.3 1044.8L835.3 1043.4L823.9 1034.1L813.9 1028.0L808.6 1025.4L777.8 1024.4L775.4 1028.0L777.8 1033.4L784.1 1043.4L782.4 1058.8L777.8 1068.4L776.1 1074.1L776.4 1089.5L777.8 1091.1L793.2 1102.2L794.1 1104.8L793.9 1120.2L808.6 1134.9L809.5 1135.6L813.3 1150.9L823.9 1165.4L824.2 1181.7L824.2 1227.7L813.5 1243.1L808.6 1259.4L793.5 1289.2L778.2 1304.5L777.8 1305.5L767.7 1319.9L762.5 1325.1L755.3 1335.3L747.5 1350.6L747.1 1351.6L739.4 1350.6L731.8 1350.2L731.4 1350.6L731.3 1366.0M1438.3 1228.0L1437.9 1227.7L1438.3 1222.3L1439.2 1227.7L1438.3 1228.0M1207.9 1212.6L1192.6 1205.2L1184.4 1197.0L1177.2 1182.6L1169.1 1166.3L1161.8 1159.1L1146.5 1151.2L1146.2 1150.9L1145.6 1135.6L1145.6 1120.2L1146.5 1119.3L1161.8 1119.3L1163.4 1120.2L1177.2 1125.4L1191.0 1120.2L1192.6 1119.8L1195.0 1120.2L1207.9 1133.2L1211.3 1135.6L1209.3 1150.9L1210.9 1166.3L1216.1 1181.7L1209.5 1197.0L1208.2 1212.4L1207.9 1212.6M687.0 1135.6L701.0 1143.2L708.7 1135.6L715.1 1120.2L713.7 1104.8L685.7 1093.2L670.3 1090.8L666.2 1089.5L655.0 1087.6L639.6 1072.3L624.2 1057.5L608.9 1053.5L593.5 1044.5L578.2 1037.8L562.8 1029.9L547.4 1028.8L532.1 1031.2L526.2 1043.4L538.7 1058.8L547.4 1062.4L578.2 1073.3L593.5 1080.6L608.9 1088.9L624.2 1104.2L639.6 1112.4L655.0 1117.8L658.5 1120.2L670.3 1124.7L685.7 1134.1L687.0 1135.6M977.5 1132.0L970.2 1120.2L977.5 1112.9L985.0 1120.2L977.5 1132.0M1253.2 1120.2L1254.0 1123.1L1254.7 1120.2L1254.0 1119.5L1253.2 1120.2M1054.3 1043.6L1054.3 1042.5L1055.2 1043.4L1054.3 1043.6M760.9 1012.7L762.5 1015.1L766.1 1012.7L762.5 1011.2L760.9 1012.7M102.0 891.9L117.4 891.6L132.7 888.1L135.9 889.8L148.1 897.9L159.9 905.1L163.4 906.8L178.8 911.0L194.2 913.7L209.5 915.5L224.9 918.7L228.4 920.5L240.2 929.1L255.6 934.2L257.1 935.9L255.6 943.5L253.3 951.2L255.6 954.0L268.2 966.6L271.0 967.9L275.2 966.6L286.3 962.1L301.7 958.7L314.4 951.2L317.0 950.2L320.9 951.2L332.4 956.4L347.8 960.1L363.1 962.9L378.5 964.9L393.8 965.3L396.3 966.6L406.6 975.1M446.1 988.9L455.3 989.3L470.6 988.5L486.0 986.5L498.4 997.3L501.4 1004.3L516.7 1011.8L532.1 1011.4L547.4 998.1L548.2 997.3L550.9 981.9L546.8 966.6L547.4 963.8L562.8 952.0L563.4 951.2L563.2 935.9L562.8 935.1L547.4 933.9L539.8 935.9L532.1 936.8L531.2 935.9L532.1 933.0L538.0 920.5L534.5 905.1L533.0 889.8L532.1 889.5L486.0 889.3L470.6 896.0L455.3 897.4L439.9 899.7L424.6 894.8L410.8 889.8L393.8 886.1L378.5 875.2L377.7 874.4L372.3 859.0L365.8 843.7L363.1 839.8L347.8 830.3L332.4 829.4L317.0 831.9L302.5 843.7L301.7 844.4L255.6 844.5L240.2 830.4L236.0 828.3L224.9 819.4L209.5 813.8L208.8 812.9L208.6 782.2L207.6 766.9L206.2 751.5L194.2 737.0L192.5 736.1L178.8 726.6L163.4 721.6L132.7 690.9L132.0 690.0L131.9 674.7L139.7 659.3L148.1 645.7L149.0 644.0L149.4 628.6L149.0 613.2L148.1 611.4L138.9 597.9L132.7 589.3L126.9 582.5L117.4 574.2L105.4 567.1L102.0 565.1M102.0 858.3L103.2 859.0L102.0 862.4M439.1 843.7L440.4 843.7L439.9 842.9L439.1 843.7M792.3 812.9L793.2 813.7L808.6 813.6L809.5 812.9L808.6 812.5L793.2 812.5L792.3 812.9M939.6 812.9L946.8 817.7L962.2 820.2L977.5 820.8L985.4 812.9L1007.8 797.6L1023.1 782.2L1021.0 766.9L1008.2 752.0L992.9 742.3L978.5 751.5L962.2 756.0L946.8 758.6L938.5 766.9L936.3 782.2L937.1 797.6L939.6 812.9M1130.1 797.6L1131.1 798.5L1132.0 797.6L1131.1 796.6L1130.1 797.6M807.6 751.5L808.6 752.3L823.9 759.2L833.5 751.5L823.9 742.7L808.6 750.6L807.6 751.5M1618.0 1366.0L1618.1 1350.6L1622.3 1335.3L1622.2 1319.9L1607.3 1305.0L1576.6 1274.3L1561.2 1274.1L1545.8 1258.8L1545.5 1258.5L1545.3 1243.1L1530.5 1228.2L1515.1 1220.8L1500.8 1227.7L1499.2 1227.7L1484.4 1215.3L1469.0 1219.5L1454.4 1227.7L1454.0 1243.1L1453.3 1243.1L1438.3 1232.9L1431.3 1227.7L1423.0 1216.7L1407.6 1220.0L1395.5 1227.7L1392.6 1243.1L1392.5 1258.5L1392.2 1258.7L1361.5 1258.7L1355.7 1243.1L1346.2 1228.2L1315.4 1197.4L1300.1 1183.2L1284.7 1186.2L1269.4 1181.9L1254.0 1166.8L1238.6 1152.7L1223.3 1158.0L1220.5 1166.3L1223.3 1179.0L1223.7 1181.7L1223.6 1197.0L1213.0 1212.4L1207.9 1216.3L1192.6 1212.7L1177.2 1197.4L1171.3 1181.7L1161.8 1166.8L1146.5 1156.3L1141.3 1150.9L1130.8 1135.6L1130.8 1120.2L1146.0 1104.8L1146.1 1089.5L1147.0 1089.5L1161.8 1104.3L1177.2 1116.3L1192.6 1112.6L1207.1 1104.8L1207.4 1089.5L1204.1 1074.1L1192.6 1066.6L1177.2 1067.6L1161.8 1065.3L1146.5 1065.6L1131.1 1059.1L1117.3 1043.4L1115.8 1042.5L1105.3 1043.4L1100.4 1043.7L1069.7 1043.7L1054.3 1047.3L1050.3 1043.4L1054.0 1028.0L1048.3 1012.7L1039.0 997.8L1023.6 982.5L1008.2 982.4L993.4 997.3L991.7 997.3L977.5 983.1L946.8 982.4L931.4 982.4L916.6 997.3L901.1 1012.7L900.7 1013.0L885.4 1013.1L855.1 1043.4L854.9 1074.1L854.6 1074.4L839.3 1074.6L809.0 1104.8L804.9 1120.2L808.6 1123.8L823.9 1135.1L824.2 1135.6L824.2 1150.9L828.4 1166.3L828.6 1197.0L828.5 1212.4L828.1 1227.7L823.9 1234.9L818.2 1243.1L808.9 1273.8L798.5 1289.2L793.2 1295.7L784.3 1304.5L778.2 1319.9L762.9 1335.3L753.1 1350.6L747.5 1366.0M992.9 1258.7L992.9 1258.7M977.5 1151.2L977.2 1150.9L977.2 1135.6L967.8 1120.2L977.5 1110.5L987.5 1120.2L978.0 1135.6L992.9 1150.4L992.9 1151.2L977.5 1151.2M700.2 1135.6L701.5 1135.6L702.5 1120.2L701.8 1104.8L685.7 1103.0L670.3 1104.0L667.7 1104.8L685.7 1116.1L691.5 1120.2L700.2 1135.6M620.6 1089.5L624.2 1093.1L639.6 1094.0L642.6 1089.5L639.6 1086.5L631.3 1074.1L624.2 1067.5L609.9 1058.8L593.5 1055.3L578.2 1054.6L572.3 1058.8L578.2 1060.6L593.5 1067.7L597.7 1074.1L608.9 1079.7L620.6 1089.5M962.2 1074.4L961.9 1074.1L961.9 1058.8L962.2 1058.4L977.5 1058.4L977.8 1058.8L977.8 1074.1L977.5 1074.4L962.2 1074.4M546.3 1043.4L547.4 1044.7L562.8 1046.6L564.9 1043.4L562.8 1042.6L547.4 1042.6L546.3 1043.4M962.2 1013.0L962.2 1011.9L977.5 1011.5L977.5 1013.0L962.2 1013.0M930.3 935.9L931.4 938.9L932.5 935.9L931.4 935.4L930.3 935.9M102.0 846.0L117.4 852.1L132.7 857.6L136.0 859.0L148.1 865.4L160.4 871.2M203.4 883.8L209.5 884.5L224.9 887.7L240.2 894.3L255.6 903.0L271.0 917.0L274.4 920.5L284.5 935.9L286.3 937.2L301.7 937.1L317.0 931.6L332.4 931.2L347.8 933.7L355.4 935.9L363.1 937.8L378.5 940.4L393.8 942.5L409.2 946.7L424.6 953.8L439.9 958.5L455.3 961.1L470.6 964.4L475.4 966.6L486.0 970.0L499.8 981.9L501.4 983.1L515.6 997.3L516.7 998.1L519.5 997.3L532.1 991.6L538.3 981.9L536.7 966.6L532.1 954.2L528.6 951.2L516.7 938.0L515.0 935.8L516.7 928.2L517.9 920.5L517.7 905.1L516.7 904.2L486.0 904.2L470.6 904.6L455.3 904.7L453.4 905.1L439.9 913.3L426.5 905.1L424.6 904.5L409.2 904.2L393.8 901.3L379.7 889.8L378.5 888.9L363.9 874.4L363.1 872.6L353.4 859.0L348.8 843.7L347.8 842.9L317.0 843.0L301.7 856.6L286.3 858.2L255.6 858.0L241.1 843.7L240.2 842.9L224.9 839.7L211.0 828.3L209.5 827.5L197.1 812.9L195.5 797.6L195.0 782.2L194.8 751.5L194.2 750.7L178.8 746.1L165.1 736.1L163.4 735.3L132.7 704.6L120.0 690.0L118.8 674.7L121.5 659.3L126.4 644.0L132.7 631.4L133.7 628.6L132.7 626.0L125.2 613.2L118.6 597.9L103.4 582.5L102.0 581.6M967.5 812.9L977.5 813.7L992.9 803.4L1001.2 797.6L1008.2 789.4L1015.4 782.2L1013.4 766.9L1008.2 760.9L992.9 752.7L962.2 760.2L946.8 765.2L945.1 766.9L941.0 782.2L942.3 797.6L946.8 807.1L962.2 812.6L967.5 812.9M823.0 751.5L823.0 751.5M1613.6 1366.0L1613.8 1350.6L1616.4 1335.3L1614.3 1319.9L1607.3 1312.9L1600.1 1304.5L1591.9 1296.3L1583.9 1289.2L1576.6 1281.8L1561.2 1279.1L1554.6 1273.8L1545.8 1265.0L1540.5 1258.5L1537.2 1243.1L1530.5 1236.4L1515.1 1228.7L1499.8 1232.6L1490.0 1227.7L1484.4 1223.0L1469.0 1226.1L1466.2 1227.7L1459.4 1243.1L1453.7 1247.5L1446.2 1243.1L1438.3 1237.7L1424.7 1227.7L1423.0 1225.5L1407.6 1227.2L1406.8 1227.7M1389.2 1263.4L1376.9 1263.8L1361.5 1263.3L1356.2 1258.5L1350.3 1243.1L1346.2 1236.7L1338.9 1227.7L1315.4 1204.3L1306.7 1197.0L1300.1 1190.8L1284.7 1190.6L1269.4 1186.9L1261.1 1181.7L1254.0 1174.5L1239.1 1166.3L1238.0 1166.3L1231.1 1181.7L1228.8 1197.0L1223.3 1204.3L1217.7 1212.4L1207.9 1220.1L1192.6 1217.4L1185.8 1212.4L1177.2 1203.8L1171.7 1197.0L1165.7 1181.7L1161.8 1175.6L1153.8 1166.3L1146.5 1161.4L1136.5 1150.9L1131.1 1143.1L1126.2 1135.6L1126.2 1120.2L1131.1 1112.4L1138.6 1104.8L1140.6 1089.5L1146.5 1077.6L1155.8 1089.5L1161.8 1095.5L1173.3 1104.8L1177.2 1107.9L1192.6 1105.5L1193.8 1104.8L1199.4 1089.5L1192.7 1074.1L1177.2 1071.9L1161.8 1071.4L1146.5 1072.1L1131.1 1065.3L1123.9 1058.8L1115.8 1049.9L1100.4 1049.1L1069.7 1049.0L1054.3 1051.1L1046.5 1043.4L1048.0 1028.0L1042.7 1012.7L1039.0 1006.8L1023.6 991.3L1008.2 990.8L1001.7 997.3L992.9 1003.9L984.1 1012.7L977.5 1018.1L962.2 1018.0L956.8 1012.7L962.2 999.7L968.6 997.3L962.2 994.9L946.8 989.9L931.4 990.7L924.8 997.3L916.1 1004.2L907.6 1012.7L900.7 1018.0L885.4 1020.8L862.9 1043.4L860.5 1058.8L859.6 1074.1L854.6 1079.3L839.3 1082.0L831.8 1089.5L823.9 1097.7L816.8 1104.8L814.4 1120.2L823.9 1128.0L828.9 1135.6L829.6 1150.9L832.7 1166.3L833.0 1197.0L832.8 1212.4L832.1 1227.7L823.9 1241.7L822.9 1243.1L818.0 1258.5L813.8 1273.8L803.5 1289.2L793.2 1301.8L790.5 1304.5L783.4 1319.9L777.8 1327.0L769.5 1335.3L762.5 1344.8L758.8 1350.6L753.4 1366.0M992.9 1262.7L988.6 1258.5L992.9 1254.2L997.1 1258.5L992.9 1262.7M977.5 1155.7L972.6 1150.9L971.6 1135.6L965.4 1120.2L977.5 1108.1L989.9 1120.2L986.1 1135.6L992.9 1142.3L997.3 1150.9L992.9 1155.7L977.5 1155.7M962.2 1079.3L957.4 1074.1L957.4 1058.8L962.2 1053.4L977.5 1053.4L982.3 1058.8L982.3 1074.1L977.5 1079.6L962.2 1079.3M293.2 889.8L301.7 899.0L310.9 901.8M334.2 879.8L332.4 877.3L323.5 874.4L317.0 873.7L314.3 874.4L301.7 881.7L293.2 889.8M102.0 829.5L117.4 830.7L132.7 833.0L163.4 840.2L178.8 836.5L180.6 828.3L179.4 812.9L178.8 803.4L178.4 797.6L176.1 782.2L169.8 766.9L163.4 759.9L155.1 751.5L148.1 745.6L122.1 720.8L117.4 715.7L105.4 705.4L102.0 700.0M948.4 797.6L962.2 806.2L977.5 807.3L992.9 798.7L994.5 797.6L1007.7 782.2L1004.4 766.9L992.9 759.8L977.5 761.3L962.2 764.4L955.4 766.9L946.8 778.2L945.6 782.2L946.8 791.8L948.4 797.6" fill="none" stroke="#000" stroke-width="2.5" stroke-linejoin="round"/>
<path d="M1510.4 137.0L1501.2 152.4L1487.4 167.7L1471.8 183.1L1453.5 198.5L1429.5 213.8L1407.6 229.7L1392.2 239.2L1361.5 255.3L1346.2 263.1L1330.8 270.5L1315.4 277.4L1300.1 283.2L1284.7 287.8L1254.0 298.8L1238.6 303.7L1223.3 309.8L1192.6 323.6L1177.2 329.3L1161.8 333.9L1131.1 344.5L1115.8 348.9L1100.4 354.0L1085.0 358.4L1069.7 361.0L1039.0 362.9L1023.6 365.0L1008.2 369.3L992.9 372.9L977.5 374.9L962.2 375.2L931.4 374.8L916.1 374.2L900.7 372.5L885.4 369.2L870.0 365.0L854.6 363.0L839.3 362.4M777.8 362.3L762.5 362.4L747.1 362.8L716.4 365.1L701.0 363.8L685.7 362.0L670.3 359.2L647.1 352.1L639.6 349.9L608.9 344.4L593.5 340.1L582.9 336.7L578.2 335.4L562.8 333.2L547.4 331.9L532.1 329.7L516.7 324.6L509.8 321.4L486.0 310.7L474.1 306.0L470.6 304.9L455.3 302.7L439.9 302.0L409.2 301.7L393.8 301.1L378.5 299.5L363.1 296.2L347.8 290.4L332.4 281.2L321.4 275.3L317.0 273.2L286.3 262.1L271.0 257.5L255.6 255.0L224.9 251.8L209.5 249.4L194.2 246.0L178.8 241.2L163.4 238.1L148.1 234.8L134.1 229.2L117.4 219.1L103.9 213.8L102.0 213.1M1532.0 137.0L1521.8 152.4L1515.1 158.9L1506.9 167.7L1491.1 183.1L1474.4 198.5L1469.0 202.9L1455.0 213.8L1438.3 223.4L1430.2 229.2L1410.0 244.5L1407.6 246.3L1392.2 255.2L1361.5 272.1L1346.2 279.6L1320.8 290.6L1315.4 292.9L1300.1 298.1L1284.7 302.8L1254.0 314.4L1238.6 320.0L1198.6 336.7L1192.6 339.1L1177.2 344.3L1161.8 348.7L1146.5 354.0L1131.1 358.7L1115.8 363.0L1102.9 367.4L1085.0 371.6L1069.7 374.2L1054.3 375.6L1039.0 376.7L1023.6 378.9L1011.0 382.8L1008.2 383.5L977.5 386.9L946.8 386.1L916.1 385.5L885.4 383.5L870.0 379.0L854.6 376.9L839.3 376.2L777.8 376.1L762.5 376.2L747.1 376.7L731.8 378.4L718.9 382.8L716.4 383.5L701.0 378.3L685.7 376.1L670.3 373.6L655.0 369.4L639.6 364.5M581.0 352.1L578.2 351.1L562.8 350.5L547.4 349.6L532.1 348.4L516.7 345.2L503.7 336.7L501.4 335.6L486.0 332.4L472.6 321.4L470.6 320.4L455.3 320.2L409.2 318.5L393.8 317.1L378.5 313.9L363.1 309.1L347.8 306.8L332.4 298.6L318.9 290.6L301.7 282.8L286.3 276.4L271.0 271.8L255.6 268.3L240.2 265.6L209.5 261.0L194.2 260.4L178.8 253.2L163.4 250.2L148.1 248.0L132.7 245.1L117.4 234.1L104.8 229.2L102.0 228.0M1562.7 137.0L1547.5 152.4L1530.5 166.3L1515.1 180.1L1494.8 198.5L1484.4 207.4L1476.6 213.8L1469.0 219.5L1452.3 229.2L1438.3 239.5L1423.0 251.9L1411.8 259.9L1407.6 262.7L1385.3 275.3L1376.9 280.2L1362.9 290.6L1361.5 291.4L1346.2 295.6L1320.6 306.0L1315.4 308.0L1284.7 318.2L1254.0 330.9L1238.6 337.7L1207.9 348.7L1192.6 354.7L1177.2 359.4L1161.8 363.4L1149.3 367.4L1131.1 372.7L1100.4 380.7L1085.0 384.3L1069.7 387.1L1054.3 389.1L1039.0 390.7L1023.6 392.6L1008.2 395.2L977.5 398.8L962.2 397.5L946.8 396.9L916.1 396.5M854.6 391.3L839.3 390.8L777.8 390.7L762.5 390.8L747.1 391.3L731.8 392.6L716.4 394.7L685.7 391.1L670.3 388.3L655.0 383.8L639.6 379.5L624.2 376.8L608.9 376.0L578.2 375.4L532.1 375.1L516.7 374.7L501.4 373.5L470.6 369.0L467.6 367.4L455.3 357.7L444.6 352.1L439.9 349.9L424.6 346.0L409.2 343.9L393.8 340.0L387.6 336.7L378.5 333.1L364.7 321.4L363.1 320.7L347.8 320.5L332.4 316.7L317.0 308.8L301.7 300.4L287.9 290.6L286.3 289.8L271.0 287.4L240.2 277.7L230.1 275.3L209.5 271.0L194.2 268.8L178.8 263.9L163.4 261.3L148.1 260.4L132.7 255.0L117.4 247.4L108.6 244.5L102.0 241.9M1593.2 137.0L1578.1 152.4L1561.2 164.3L1545.8 175.6L1541.1 179.4M1496.1 215.8L1484.4 226.0L1469.0 236.3L1453.7 243.6L1438.3 257.3L1423.0 269.2L1413.6 275.3L1407.6 278.8L1392.2 287.4L1376.9 296.3L1361.5 304.3L1356.9 306.0L1330.8 316.6L1318.4 321.4L1300.1 327.9L1284.7 333.6L1254.0 347.2L1242.7 352.1L1207.9 364.2L1192.6 370.1L1177.2 374.4L1161.8 377.7L1146.5 381.7L1131.1 386.2L1115.8 390.2L1100.4 393.5L1069.7 399.7L1054.3 402.4L1039.0 404.5L1008.2 407.9L992.9 409.2L977.5 410.1L946.8 408.9L900.7 408.5L885.4 407.9L870.0 407.0L854.6 406.3L823.9 406.0L762.5 406.1L747.1 406.4L731.8 407.3L716.4 408.6L701.0 409.1L685.7 407.9L670.3 404.4L657.2 398.2L655.0 397.4L639.6 395.2L624.2 393.5L608.9 394.3L593.5 396.5L578.2 399.6L562.8 401.8L532.1 404.3L516.7 404.9L501.4 403.7L486.0 400.7L470.6 396.0L439.9 384.5L424.6 378.9L409.2 375.7L393.8 373.2L378.5 369.5L375.5 367.4L365.3 352.1L363.1 350.5L347.8 346.2L332.4 338.4L330.1 336.7L317.0 329.4L303.8 321.4L286.3 313.4L271.0 307.1L255.6 298.6L242.0 290.6L224.9 285.8L209.5 280.6L194.2 277.5L178.8 273.4L163.4 270.8L148.1 269.3L132.7 265.2L119.7 259.9L117.4 258.9L102.0 254.1M1624.3 137.0L1622.6 138.5L1607.3 148.6L1604.2 152.4L1591.9 163.0L1586.3 167.7L1564.6 183.1L1545.8 196.4L1525.3 213.8L1515.1 222.7L1507.1 229.2L1499.8 234.8L1486.2 244.5L1469.0 254.0L1453.7 264.0L1439.7 275.3L1423.0 285.7L1392.2 303.8L1376.9 311.8L1346.2 325.2L1330.8 331.4L1315.4 335.9L1300.1 343.3L1284.7 349.4L1269.4 356.4L1254.0 362.7L1241.6 367.4L1223.3 373.8M1168.0 390.5L1161.8 391.6L1146.5 395.1L1115.8 403.8L1100.4 406.8L1069.7 412.0L1039.0 417.9L1023.6 420.2L1008.2 421.6L992.9 422.4L977.5 422.8L946.8 422.5L916.1 422.8L885.4 422.7L854.6 422.2L777.8 422.1L762.5 422.2L747.1 422.5L731.8 423.8L716.4 426.3L701.0 430.0L685.7 429.9L670.3 422.9L655.0 417.8L642.9 413.5L639.6 412.5L624.2 412.4L619.3 413.5L593.5 421.0L578.2 424.6L562.8 426.8L547.4 427.5L542.6 428.9L532.1 433.1L516.7 434.4L501.4 432.3L491.2 428.9L486.0 427.4L470.6 430.3L467.4 428.9L443.2 413.5L439.9 411.9L409.2 405.2L393.8 402.7L378.5 400.5L363.1 399.2L347.8 398.9L346.6 398.2L332.4 384.0L331.3 382.8L328.1 367.4L318.7 352.1L317.0 350.8L301.7 342.4L286.3 337.5L271.0 325.3L255.6 316.2L237.8 306.0L224.9 299.3L210.9 290.6L209.5 290.1L194.2 287.1L178.8 281.9L148.1 278.3L132.7 275.8L117.4 269.5L102.0 264.8M1638.0 150.7L1622.6 164.9L1618.9 167.7L1607.3 175.1L1595.9 183.1L1585.8 189.3M1538.0 224.5L1516.4 244.5L1515.1 245.6L1499.8 254.4L1490.5 259.9L1469.0 271.7L1453.7 282.0L1441.3 290.6L1423.0 301.4L1407.6 310.9L1393.6 321.4L1392.2 322.2L1376.9 327.0L1361.5 333.4L1346.2 340.4L1318.9 352.1L1300.1 359.9L1284.7 366.0L1269.4 372.3L1254.0 377.8L1238.6 382.0L1223.3 388.8L1197.3 398.2L1192.6 399.8L1177.2 402.7L1161.8 404.8L1146.5 408.4L1131.1 412.7L1115.8 417.9L1100.4 420.6L1085.0 422.6L1069.7 424.8L1054.3 427.6L1023.6 434.3L1008.2 436.1L992.9 436.8L962.2 437.2L946.8 438.0L931.4 439.4L916.1 440.4L900.7 440.8L777.8 440.9L762.5 440.9L747.1 441.5L731.8 443.0L716.4 446.8L701.0 448.4L685.7 446.4L670.3 441.4L655.0 437.4L639.6 435.6L624.2 436.7L608.9 442.1L604.3 444.2L581.4 459.6L578.2 461.7L562.8 464.6L547.4 466.0L532.1 466.1L516.7 464.7L501.4 461.3L486.0 457.1L455.3 452.0L439.9 448.5L424.6 445.6L422.2 444.2L409.2 434.2L399.4 428.9L393.8 426.5L378.5 421.7L363.1 417.2L353.4 413.5L347.8 412.0L332.4 403.1L325.5 398.2L311.4 382.8L303.1 367.4L287.9 352.1L271.0 343.8L260.7 336.7L240.2 324.0L236.5 321.4L224.9 314.0L209.5 306.7L194.2 297.9L180.1 290.6L178.8 290.1L163.4 289.5L148.1 287.6L132.7 285.0L102.0 274.7M1638.0 192.6L1622.6 195.4L1607.3 197.2L1605.3 198.5L1591.9 209.3L1576.6 212.8L1561.2 225.8L1545.8 238.1L1530.5 252.1L1520.4 259.9L1515.1 263.8L1484.4 280.6L1469.0 288.8L1453.7 299.0L1441.8 306.0L1438.3 307.5L1423.0 317.2L1407.6 327.4L1392.2 335.6L1361.5 349.2L1346.2 356.6L1315.4 370.7L1300.1 376.9L1287.0 382.8L1254.0 393.4L1241.2 398.2L1207.9 409.0L1195.1 413.5L1192.6 414.3L1161.8 417.1L1146.5 422.1L1131.1 429.7L1115.8 432.2L1100.4 434.4L1069.7 438.3L1039.0 443.5L1023.6 448.8L1008.2 451.1L992.9 451.9L977.5 452.2L965.2 452.8M903.8 462.9L885.4 463.6L839.3 464.1L808.6 465.0L777.8 464.1L762.5 463.9L747.1 464.3L731.8 465.3L716.4 466.6L701.0 466.8L685.7 464.9L673.1 459.6L670.3 458.6L655.0 457.7L639.6 457.7L624.2 458.4L622.4 459.6L611.5 475.0L596.1 490.3L593.5 492.3L578.2 496.1L562.8 497.5L547.4 497.3L532.1 495.7L516.7 492.4L501.4 488.2L486.0 484.5L455.3 478.8L439.9 476.2L424.6 468.7L409.2 462.5L403.5 459.6L393.8 453.8L380.9 444.2L378.5 442.9L363.1 437.1L349.9 428.9L332.4 422.0L318.9 413.5L301.7 401.5L298.1 398.2L286.3 385.3L283.9 382.8L272.7 367.4L257.1 352.1L240.2 341.3L235.2 336.7L224.9 329.2L214.5 321.4L194.2 309.4L186.0 306.0L178.8 302.6L163.4 299.7L148.1 297.5L132.7 294.6L117.4 290.0L102.0 287.5M1638.0 238.5L1622.6 241.4L1614.4 244.5L1607.3 246.9L1591.9 246.9L1584.2 244.5L1576.6 242.9L1561.2 243.5L1545.8 258.7L1530.5 273.9L1515.1 285.3L1499.8 289.6L1497.9 290.6L1484.4 301.0L1469.0 305.0L1453.7 318.0L1438.3 320.6L1437.2 321.4L1423.0 335.6L1407.6 344.8L1392.2 351.1L1376.9 359.5L1361.5 366.4L1330.8 380.9L1315.4 388.1L1300.1 394.4L1284.7 397.3L1269.4 405.5L1254.0 410.4L1238.6 412.7L1223.3 419.9L1211.0 423.0M1152.0 433.5L1146.5 436.6L1131.1 442.5L1115.8 445.6L1100.4 447.3L1085.0 450.6L1069.7 452.7L1054.3 455.4L1041.7 459.6L1023.6 464.0L1008.2 466.5L977.5 468.1L962.2 469.8L946.8 473.8L931.4 478.7L916.1 481.5L885.4 484.7L870.0 485.8L854.6 486.5L839.3 487.5L823.9 488.9L808.6 492.0L793.2 488.9L777.8 487.2L762.5 486.7L747.1 487.0L716.4 488.1L701.0 487.8L685.7 486.6L670.3 485.1L655.0 485.2L639.6 488.4L637.1 490.3L624.2 503.2L621.9 505.7L611.2 521.1L608.9 522.6L593.5 524.0L578.2 525.7L562.8 526.8L547.4 526.2L532.1 523.2L516.7 519.0L501.4 515.6L486.0 513.2L470.6 510.2L459.9 505.7L455.3 504.2L439.9 500.4L426.9 490.3L424.6 489.2L409.2 488.1L393.8 483.7L378.5 476.9L354.1 459.6L347.8 455.3L334.7 444.2L332.4 443.0L317.0 440.5L301.7 435.4L286.3 431.0L284.1 428.9L286.3 421.2L287.8 413.5L286.3 412.1L271.0 406.2L264.2 398.2L255.6 387.4L242.1 367.4L240.2 365.5L230.0 352.1L224.9 347.4L215.3 336.7L195.3 321.4L178.8 314.3L163.4 310.1L132.7 305.1L117.4 302.2L102.0 300.4M1638.0 293.4L1630.3 290.6L1622.6 288.3L1607.3 293.1L1591.9 288.2L1576.6 288.2L1571.0 290.6L1561.2 295.6L1545.8 302.4L1538.0 306.0L1530.5 308.7L1515.1 315.1L1503.3 321.4L1484.4 329.7L1472.1 336.7L1469.0 338.1L1453.7 343.6L1440.6 352.1L1438.3 353.3L1423.0 358.3L1407.6 365.1L1402.6 367.4L1392.2 372.8L1376.9 379.4L1368.4 382.8L1361.5 385.0L1346.2 391.0L1332.7 398.2L1315.4 406.6L1302.3 413.5L1300.1 414.8L1284.7 420.0L1269.4 425.4L1254.0 430.4L1238.6 434.0L1223.3 437.4L1207.9 440.3L1192.6 442.7L1177.2 443.3L1161.8 443.3L1160.2 444.2L1146.5 454.8L1131.1 458.6L1100.4 458.9L1098.3 459.6L1085.0 467.0L1069.7 468.8L1054.3 471.0L1039.0 474.2L1023.6 479.7L1008.2 482.7L986.7 484.5M940.7 495.2L931.4 497.4L916.1 499.9L900.7 502.9L885.4 507.0L854.6 512.3L839.3 515.9L827.8 521.1L823.9 522.3L808.6 522.4L803.5 521.1L793.2 517.4L777.8 515.0L762.5 515.1L747.1 517.7L737.5 521.1L731.8 522.9L716.4 526.7L703.9 536.4L701.0 537.6L698.5 536.4L689.8 521.1L685.7 518.9L670.3 518.4L655.0 519.1L652.6 521.1L643.0 536.4L627.4 551.8L624.2 553.6L608.9 550.0L578.2 550.3L572.5 551.8L562.8 555.3L547.4 555.4L537.8 551.8L532.1 550.2L516.7 548.2L501.4 545.9L470.6 543.3L455.3 541.4L439.9 539.0L424.6 537.8L421.6 536.4L409.2 527.8L393.8 522.7L390.8 521.1L370.3 505.7L363.1 500.5L350.5 490.3L347.8 488.5L332.4 483.6L301.7 476.8L286.3 468.6L271.0 461.4L255.6 449.9L240.2 445.5L238.9 444.2L238.0 428.9L240.2 421.2L241.9 413.5L240.2 411.0L228.8 398.2L224.9 390.5L221.8 382.8L217.4 367.4L210.6 352.1L197.2 336.7L194.2 334.4L178.8 325.4L163.4 320.7L132.7 316.5L117.4 314.6L102.0 313.3M1638.0 343.3L1607.3 344.3L1591.9 345.4L1576.6 348.5L1568.0 352.1L1561.2 354.5L1545.8 354.6L1541.5 352.1L1533.5 336.7L1530.5 335.3L1527.7 336.7L1515.1 346.9L1499.8 350.5L1484.4 356.6L1469.0 360.8L1453.7 366.2L1438.3 374.6L1423.0 381.3L1407.6 388.6L1394.3 398.2L1392.2 399.0L1376.9 399.0L1361.5 400.7L1346.2 407.5L1330.8 412.7L1329.5 413.5L1317.0 428.9L1315.4 430.0L1276.1 444.2L1269.4 446.6L1254.0 450.5L1247.9 451.7M1201.8 463.5L1192.6 466.5L1179.5 475.0L1177.2 476.1L1161.8 476.6L1146.5 478.8L1131.1 482.2L1118.0 490.3L1115.8 491.3L1100.4 491.5L1092.7 490.3L1085.0 488.9L1069.7 488.9L1039.0 489.4L1036.9 490.3L1023.6 500.2L1008.2 503.2L992.9 504.4L977.5 504.5L974.4 505.7L962.2 512.4L946.8 516.0L916.1 519.8L900.7 524.2L870.0 531.4L854.6 537.6L839.3 540.6L823.9 542.9L808.6 543.8L793.2 544.2L777.8 545.0L762.5 547.7L752.1 551.8L747.1 553.5L739.4 551.8L731.8 550.3L716.4 556.9L701.0 558.4L685.7 558.5L670.3 562.7L655.0 572.7L642.5 582.5L639.6 583.9L608.9 587.2L578.2 589.3L562.8 590.9L547.4 594.1L537.9 597.9L532.1 599.8L516.7 599.6L513.3 597.9L501.4 588.6L490.7 582.5L486.0 580.2L455.3 571.7L444.6 567.1L439.9 565.6L424.6 562.3L409.2 556.9L393.8 550.0L378.5 543.8L363.1 538.1L359.7 536.4L347.8 528.4L336.1 521.1L332.4 518.9L317.0 514.2L301.7 508.5L297.3 505.7L271.0 491.7L255.6 479.7L240.2 468.4L229.7 459.6L224.9 455.2L209.5 445.5L194.2 430.4L178.8 415.2L177.9 413.5L178.8 411.1L188.8 398.2L192.8 382.8L196.8 367.4L195.1 352.1L179.8 336.7L178.8 336.1L148.1 330.0L132.7 328.2L117.4 326.7L102.0 325.8M683.9 582.5L685.7 590.2L701.0 590.2L704.9 582.5L701.0 581.2L685.7 581.3L683.9 582.5M1638.0 380.6L1632.7 382.8L1622.6 387.8L1610.4 398.2L1607.3 400.2L1599.6 398.2L1591.9 395.4L1576.6 395.6L1569.5 398.2L1561.2 401.4L1545.8 404.6L1515.1 407.8L1505.2 413.5L1499.8 415.4L1497.2 413.5L1493.5 398.2L1487.1 382.8L1484.4 381.4L1469.0 381.6L1466.8 382.8L1453.7 395.0L1438.3 402.7L1423.0 407.9L1407.6 412.0L1392.2 412.7L1361.5 412.8L1360.2 413.5L1346.2 427.5L1330.8 441.2L1326.2 444.2L1315.4 450.2L1300.1 456.6L1284.7 462.4L1269.4 467.0L1238.6 473.7L1207.9 484.4L1192.6 489.1L1177.2 494.5L1161.8 497.1L1155.7 497.9M1109.6 509.7L1100.4 511.7L1085.0 514.2L1072.3 521.1L1069.7 522.2L1054.3 523.2L1039.0 527.2L1026.0 536.4L1023.6 537.5L1008.2 537.8L992.9 539.0L977.5 541.0L962.2 542.7L946.8 543.4L931.4 543.2L916.1 543.4L900.7 545.1L885.4 548.2L870.0 550.7L867.5 551.8L854.6 559.5L839.3 563.1L823.9 565.1L808.6 565.8L804.1 567.1L793.2 571.9L777.8 575.3L762.5 579.5L753.8 582.5L747.1 585.1L731.8 589.2L716.4 590.7L705.3 597.9L701.0 599.4L685.7 599.4L670.3 599.7L624.2 610.6L614.3 613.2L608.9 614.5L593.5 616.8L578.2 619.6L562.8 623.3L551.3 628.6L547.4 629.8L516.7 629.9L512.6 628.6L501.4 623.9L486.0 618.6L470.6 614.8L466.5 613.2L455.3 607.6L439.9 601.7L409.2 587.8L399.1 582.5L378.5 573.1L367.0 567.1L363.1 565.5L332.4 557.7L317.0 553.6L313.2 551.8L301.7 545.3L286.3 538.2L284.7 536.4L274.8 521.1L257.6 505.7L240.2 494.2L235.1 490.3L224.9 481.8L218.3 475.0L200.8 459.6L194.2 454.2L180.8 444.2L163.4 430.3L162.8 428.9L162.3 398.2L163.4 394.6L168.7 382.8L178.8 369.5L179.8 367.4L179.7 352.1L178.8 351.2L163.4 348.6L148.1 341.0L117.4 338.6L102.0 337.1M160.9 1366.0L163.4 1363.6L168.4 1366.0M189.2 1366.0L194.2 1363.6L196.7 1366.0M102.0 1332.8L104.3 1335.3L102.0 1337.8M1638.0 471.8L1630.3 475.0L1622.6 477.6L1591.9 477.4L1576.6 477.1L1573.8 475.0L1576.6 467.3L1591.9 467.3L1598.0 459.6L1607.3 450.3L1610.0 444.2L1607.3 441.8L1591.9 441.8L1587.1 444.2L1576.6 454.8L1561.2 454.1L1545.8 452.7L1530.5 452.3L1515.1 452.3L1499.8 451.6L1484.4 448.0L1469.0 441.6L1453.7 438.7L1438.3 439.1L1423.0 442.0L1407.6 447.0L1392.2 450.7L1376.9 453.2L1361.5 457.3L1356.3 459.6L1346.2 463.7L1330.8 469.0L1315.4 473.5L1308.7 476.1M1266.1 489.5L1238.6 496.9L1223.3 501.9L1207.9 507.1L1192.6 511.0L1177.2 513.9L1146.5 518.5L1131.1 520.0L1128.8 521.1L1115.8 528.5L1100.4 532.7L1085.0 535.2L1069.7 541.9L1054.3 546.4L1039.0 550.5L1023.6 556.0L992.9 561.5L980.2 567.1L977.5 568.0L962.2 568.3L946.8 569.5L931.4 569.0L916.1 565.8L900.7 565.9L897.8 567.1L885.4 575.9L873.6 582.5L870.0 584.3L854.6 589.2L839.3 593.5L828.7 597.9L823.9 599.7L808.6 602.6L777.8 605.1L762.5 610.8L758.7 613.2L748.5 628.6L747.1 629.4L716.4 629.7L711.4 628.6L701.0 625.3L685.7 623.9L670.3 623.9L655.0 625.7L644.3 628.6L639.6 629.6L608.9 634.4L593.5 637.4L580.4 644.0L578.2 644.9L562.8 647.1L547.4 649.9L532.1 650.7L516.7 650.1L501.4 648.4L486.0 645.3L470.6 640.3L455.3 636.4L439.9 634.7L409.2 630.1L406.6 628.6L393.8 618.1L378.5 609.0L355.4 597.9L347.8 594.4L332.4 588.8L317.0 584.1L301.7 576.3L286.3 568.7L284.1 567.1L271.0 555.3L267.7 551.8L257.3 536.4L242.2 521.1L224.9 510.0L220.2 505.7L209.5 495.2L205.6 490.3L195.4 475.0L194.2 473.9L178.8 467.2L163.4 461.0L161.6 459.6L154.9 444.2L151.4 428.9L147.4 413.5L144.3 398.2L132.7 384.0L131.8 382.8L132.7 379.2L148.1 370.3L149.5 367.4L149.2 352.1L148.1 351.5L117.4 351.1L102.0 344.4M1638.0 411.9L1636.2 413.5L1638.0 416.3" fill="none" stroke="#000" stroke-width="2.5" stroke-dasharray="2.5 4.1" stroke-linejoin="round"/>

<path d="M900.7 137.0L899.2 144.7L890.0 155.4L873.1 169.3L868.5 161.6L857.7 153.9L853.1 148.7L856.2 158.5L860.8 167.7L866.9 173.9L868.5 184.6L862.3 198.5L853.1 212.3L842.4 224.6L839.3 220.0L843.9 210.7L848.5 200.0L842.4 192.3L831.6 186.2L830.1 175.4L834.7 167.7L837.7 155.4L839.3 150.8L830.1 157.0L825.5 164.7L823.9 173.9L825.5 184.6L828.5 192.3L828.5 196.9L817.8 193.8L807.0 186.2L800.9 187.7L810.1 192.3L820.8 198.5L830.1 201.5L830.1 210.7L823.9 216.9L828.5 221.5L820.8 224.6L830.1 230.7L839.3 231.6L842.4 241.5L847.0 255.3L854.6 267.6L854.6 282.9L845.4 285.1L830.1 292.2L822.4 302.3L805.5 301.4L791.7 310.6L779.4 325.0L762.5 326.0L748.7 335.2L739.4 347.5L728.7 353.6L719.5 361.3L702.6 372.0L690.3 381.3L681.1 396.6L673.4 412.0L671.9 422.7L673.4 435.0L678.0 450.4L685.7 467.3L693.4 481.1L699.5 491.9L698.6 502.6L705.6 519.5L713.3 536.4L715.5 548.7L713.9 564.1L712.7 573.9L707.2 585.6L702.6 591.7L693.4 593.3L682.6 593.9L679.5 584.0L665.7 570.2L659.6 554.9L651.9 548.7L650.4 539.5L641.1 531.8L635.0 522.6L638.1 510.3L631.9 507.2L630.4 496.5L635.0 482.7L630.4 471.9L618.1 461.1L605.8 447.3L593.5 441.2L582.8 445.8L565.9 453.5L552.0 454.1L550.5 445.8L539.8 439.6L522.9 432.6L495.2 434.1L476.8 436.6L472.2 425.8L467.6 433.5L446.1 432.0L430.7 435.0L421.5 438.7L416.9 442.7L426.1 444.2L423.0 451.9L430.7 456.5L421.5 459.6L432.2 465.8L438.4 471.9L429.2 475.6L426.1 468.8L415.3 464.2L409.2 468.8L401.5 472.5L389.2 471.9L372.3 467.3L369.3 459.6L352.4 458.1L341.6 458.1L317.0 451.9L292.5 453.5L274.0 459.6L263.3 464.2L258.7 455.0L255.6 464.2L251.0 473.4L231.0 484.2L212.6 493.4L206.4 487.3L198.8 502.6L188.0 514.9L183.4 528.7L181.9 542.6L184.9 554.9L189.6 568.1L181.9 587.1L174.2 607.1L171.1 631.7L169.6 659.3L169.6 677.8L174.2 693.1L183.4 708.5L188.0 725.4L201.8 745.4L214.1 763.8L221.8 777.6L231.0 788.4L249.5 793.0L261.7 799.1L272.5 808.3L298.6 800.7L320.1 796.1L341.6 793.0L352.4 794.5L366.2 786.8L380.0 777.6L387.7 760.7L395.4 742.3L398.4 722.3L415.3 711.6L443.0 705.4L470.6 702.3L495.2 703.9L507.5 710.0L506.0 723.8L490.6 742.3L487.5 757.6L479.9 773.0L478.3 794.5L469.1 799.1L467.6 809.9L463.0 825.2L463.0 840.6L456.8 859.0L443.0 876.9L453.7 879.0L464.5 883.0L478.3 876.9L501.4 880.5L522.9 880.5L538.2 875.0L562.8 875.0L582.8 879.9L599.7 892.8L615.0 905.1L612.0 926.6L608.9 951.2L607.3 975.8L602.7 997.3L598.1 1018.8L604.3 1030.5L613.5 1048.0L625.8 1066.4L639.6 1075.6L650.4 1089.5L662.6 1091.0L679.5 1096.2L694.9 1089.5L710.3 1080.3L719.5 1077.8L730.2 1070.4L747.1 1072.6L765.6 1076.6L782.4 1087.9L797.8 1100.2L810.1 1114.1L816.2 1121.7L816.2 1101.8L827.0 1091.0L845.4 1077.2L853.1 1061.8L854.6 1044.9L870.0 1031.1L876.1 1025.6L894.6 1018.8L922.2 1018.8L939.1 1006.5L954.5 998.8L971.4 983.5L986.7 988.1L982.1 1001.9L963.7 1009.6L963.7 1023.4L972.9 1029.6L974.4 1043.4L960.6 1061.8L965.2 1080.3L982.1 1087.9L992.9 1071.0L986.7 1049.5L977.5 1029.6L992.9 1025.0L1014.4 1015.7L1017.5 1008.1L1025.1 991.8L1029.7 1006.5L1031.3 1013.3L1054.3 1014.2L1072.8 1021.9L1077.4 1034.2L1085.0 1043.4L1115.8 1040.9L1143.4 1040.3L1148.0 1049.5L1174.1 1056.3L1186.4 1054.1L1201.8 1043.4L1217.1 1038.8L1247.9 1035.7L1272.4 1036.6L1254.0 1041.9L1238.6 1044.9L1250.9 1052.6L1260.1 1058.8L1278.6 1061.8L1300.1 1072.6L1306.2 1081.8L1300.1 1101.8L1330.8 1103.3L1336.9 1111.0L1358.4 1120.2L1376.9 1140.2L1378.4 1154.0L1387.6 1156.5L1407.6 1172.4L1418.4 1183.2L1438.3 1183.2L1456.8 1184.7L1479.8 1182.3L1515.1 1187.8L1530.5 1195.5L1548.9 1203.2L1567.3 1215.4L1582.7 1224.7L1588.8 1237.0L1601.1 1241.6L1607.3 1267.7L1616.5 1298.4L1625.7 1309.2L1641.1 1315.3M95.9 840.6L105.1 848.3L132.7 856.6L163.4 871.3L194.2 876.9L218.7 884.5L246.4 871.3L267.9 868.3L289.4 874.4L317.0 899.0L340.1 919.0L363.1 935.9L393.8 938.9L415.3 949.7L446.1 960.4L473.7 962.0L478.3 953.7L487.5 955.8L489.1 968.1L501.4 980.4L516.7 997.3L535.2 1018.8L541.3 1026.5L536.7 1044.9L542.8 1060.3L558.2 1069.5L562.8 1055.7L570.5 1066.4L590.4 1078.7L604.3 1089.5L601.2 1100.2L615.0 1107.3L624.2 1111.0L627.9 1118.7L645.7 1111.6L664.2 1117.1L678.0 1131.0L688.8 1144.2L704.1 1141.7L716.4 1135.6L704.1 1118.7L713.3 1106.4L728.7 1092.5L742.5 1087.9L762.5 1103.3L773.2 1112.5L765.6 1123.3L780.9 1143.2L793.2 1160.1L796.3 1178.6L797.8 1197.0L793.2 1224.7L802.4 1246.2L790.1 1267.7L771.7 1286.1L757.9 1292.3L751.7 1312.2L745.6 1323.0L725.6 1335.9L713.3 1344.5L714.9 1372.1M564.3 694.4L581.2 680.8L593.5 667.0L618.1 659.9L642.7 653.8L667.2 654.7L685.7 656.3L699.5 659.3L722.5 667.0L737.9 677.8L759.4 679.3L777.8 682.4L793.2 693.1L808.6 703.9L823.9 713.1L842.4 717.7L851.6 730.0L873.1 730.6L896.1 743.8L891.5 749.3L866.9 754.6L848.5 753.0L830.1 752.1L802.4 754.6L786.4 756.1L799.3 740.7L804.0 731.5L780.9 730.0L768.6 722.3L760.9 708.5L753.3 701.7L731.8 699.3L707.2 694.7L699.5 688.5L679.5 687.0L659.6 683.9L655.0 677.8L665.7 674.7L648.8 668.5L630.4 669.2L618.1 680.8L605.8 683.9L593.5 692.5L578.2 696.8L564.3 694.4M619.6 697.7L628.8 692.2L638.1 697.7L636.5 703.9L624.2 706.9L619.6 697.7M766.5 804.7L780.9 797.0L802.4 799.1L817.8 804.7L831.6 812.9L830.1 816.9L811.6 817.6L802.4 821.6L784.0 816.9L774.8 806.8L766.5 804.7M919.2 757.0L937.6 753.7L968.3 757.6L992.9 755.2L1023.6 761.6L1026.7 769.9L1045.1 772.1L1048.2 776.1L1035.9 779.2L1060.5 782.8L1074.3 793.9L1066.6 802.2L1054.3 800.0L1026.7 799.1L1008.2 806.8L992.9 803.7L989.8 816.0L980.0 825.2L968.3 811.4L949.9 806.2L931.4 806.8L906.9 811.4L886.9 802.2L888.4 793.0L913.0 797.0L937.6 799.7L951.4 796.1L937.6 782.2L939.1 771.5L919.2 757.0M922.2 784.4L937.6 788.4L929.9 789.9L922.2 784.4M1107.5 801.9L1111.2 797.6L1143.4 798.5L1158.2 802.2L1154.2 812.3L1131.1 814.5L1109.6 814.5L1107.5 801.9M748.7 546.3L759.4 550.3L777.8 548.1L782.4 544.1L765.6 543.2L748.7 546.3M784.0 538.9L799.3 547.2L807.9 551.8L809.5 561.0L802.4 570.8L797.8 564.1L804.0 556.4L796.3 548.7L784.0 538.9M771.7 591.7L785.5 594.8L787.1 610.2L791.7 622.5L785.5 636.3L776.3 619.4L767.1 610.2L771.7 591.7M816.2 581.0L830.1 588.7L834.7 604.0L833.1 608.6M847.0 608.6L859.2 622.5L856.2 624.0M860.8 639.4L870.0 656.3L874.6 663.3M836.2 636.3L847.0 645.5M890.0 663.9L903.8 668.5L894.6 683.9L900.7 676.2M926.8 676.2L939.1 679.9M911.5 717.7L929.9 711.6L931.4 720.8L919.2 722.9L911.5 717.7M952.9 694.7L977.5 696.2L971.4 700.8M791.7 596.3L800.9 596.3M1271.8 1037.9L1300.1 1032.6L1302.2 1034.2L1300.1 1054.1L1272.4 1057.2L1284.7 1049.5L1286.3 1040.3L1271.8 1037.9M1304.7 1023.4L1314.8 1017.9M1195.6 1026.5L1203.3 1029.6L1214.1 1028.0L1211.0 1023.4L1195.6 1026.5M1275.5 865.2L1283.2 872.9L1293.9 865.8L1284.7 859.0L1275.5 865.2M1285.6 886.7L1292.4 897.4M1293.9 909.7L1304.7 922.0L1298.5 920.5L1293.9 909.7M1298.5 933.4L1303.2 943.5M1292.4 955.8L1295.5 962.0M1277.0 991.2L1281.6 997.3M1342.2 957.4L1347.7 963.5M1272.4 839.1L1278.6 842.1M1243.2 831.4L1252.5 839.1M1049.7 985.6L1062.0 995.8M1022.1 978.9L1027.3 984.4M1072.8 988.1L1078.9 995.8M1178.7 802.2L1189.5 802.8M1180.3 821.2L1191.0 820.6M673.4 773.0L682.6 772.1M501.4 734.6L509.0 742.3M513.6 865.2L525.9 861.2M661.1 611.7L676.5 607.7L691.8 602.5L704.1 594.8" fill="none" stroke="#000" stroke-width="2.2" stroke-linejoin="round" stroke-linecap="round"/>
<path d="M89.7 490.3L102.0 501.1L117.4 521.1L126.6 542.6L129.6 554.9L154.2 564.1L175.7 570.2L189.6 568.1M340.7 919.3L344.7 902.1L356.1 872.2L395.7 872.2L396.9 862.1L387.7 851.4L376.9 846.7L364.7 836.0L379.1 836.0L379.1 818.5L435.3 818.5M435.3 818.5L433.2 877.5M435.3 818.5L444.5 816.0L455.3 799.1L461.4 797.6M463.9 883.0L443.0 902.1L433.8 911.3L429.2 922.9M429.2 922.9L416.9 934.3L406.1 943.5M429.2 922.9L443.0 929.7L455.3 936.5L470.6 938.9L479.9 942.0L476.8 954.3M492.1 966.6L509.0 957.4L529.0 937.4L539.8 940.5L562.8 917.4L578.2 915.9L599.7 911.3L615.0 905.1M541.3 1025.6L565.9 1029.6L593.5 1034.8L604.3 1030.5M627.3 1118.7L628.8 1104.8L626.4 1091.0L633.5 1086.4L637.4 1072.0M797.8 1100.2L802.4 1121.7L793.2 1132.5L780.9 1143.2M982.1 1001.9L962.2 1009.6L948.3 1025.0L934.5 1044.9L931.4 1064.9L937.6 1086.4L949.9 1107.9L948.3 1135.6L962.2 1150.9L1002.1 1147.9L1020.5 1152.5L1040.5 1178.6L1101.9 1175.5L1089.6 1203.2L1091.2 1227.7L1106.5 1261.5L1089.6 1280.0L1109.6 1292.3L1119.8 1329.1M751.7 1323.0L777.8 1338.3L794.7 1353.7L830.1 1353.7L851.6 1364.5L860.8 1370.6M1119.8 1329.1L1112.7 1313.8L1028.2 1313.2L1028.2 1333.1L1049.7 1346.0L1022.1 1349.1L1022.1 1372.1M1119.8 1329.1L1137.3 1343.0L1160.3 1336.8L1177.2 1330.7L1206.4 1306.1L1226.4 1298.4L1207.9 1290.7L1201.8 1255.4L1189.5 1240.0L1211.0 1244.6L1241.7 1255.4L1247.9 1241.6L1300.1 1227.7L1308.7 1206.2M1308.7 1206.2L1287.8 1184.7L1295.5 1160.1L1320.0 1147.9L1309.3 1134.0L1336.9 1111.0M1308.7 1206.2L1330.8 1210.8L1331.4 1227.7L1344.6 1246.2L1332.3 1292.3L1340.0 1309.2L1364.6 1327.6L1392.2 1319.9L1413.7 1306.1L1438.3 1307.6M1418.4 1183.2L1413.7 1203.2L1395.3 1224.7L1390.7 1243.1L1404.5 1263.1L1413.7 1263.1L1438.3 1307.6M1515.1 1187.8L1501.3 1212.4L1502.8 1240.0L1515.1 1258.5L1509.0 1280.0L1496.7 1294.7M1438.3 1307.6L1456.8 1309.2L1455.2 1289.2L1484.4 1287.7L1496.7 1294.7M1496.7 1294.7L1521.3 1295.3L1548.9 1298.4L1564.3 1270.8L1585.8 1243.1L1587.3 1238.5M969.8 760.7L971.4 776.1L969.8 793.0L962.2 794.5L971.4 803.7L969.2 811.4" fill="none" stroke="#000" stroke-width="1.0" stroke-linejoin="round"/>

<g font-size="20" text-anchor="middle" fill="#000">
<text transform="translate(1517.0,196.0) rotate(-38.0)" y="7.3">-18</text>
<text transform="translate(1562.0,205.0) rotate(-35.0)" y="7.3">-14</text>
<text transform="translate(610.0,360.0) rotate(14.0)" y="7.3">-22</text>
<text transform="translate(808.0,365.0) rotate(0.0)" y="7.3">-24</text>
<text transform="translate(886.0,394.0) rotate(0.0)" y="7.3">-20</text>
<text transform="translate(1195.0,381.0) rotate(-14.0)" y="7.3">-16</text>
<text transform="translate(1180.0,428.0) rotate(-14.0)" y="7.3">-10</text>
<text transform="translate(935.0,459.0) rotate(-4.0)" y="7.3">-12</text>
<text transform="translate(1224.0,457.0) rotate(-18.0)" y="7.3">-6</text>
<text transform="translate(962.0,486.0) rotate(-6.0)" y="7.3">-8</text>
<text transform="translate(1286.0,480.0) rotate(-22.0)" y="7.3">-2</text>
<text transform="translate(1133.0,504.0) rotate(-12.0)" y="7.3">-4</text>
<text transform="translate(120.0,368.0) rotate(80.0)" y="7.3">0</text>
<text transform="translate(118.0,410.0) rotate(60.0)" y="7.3">4</text>
<text transform="translate(1073.0,611.0) rotate(-18.0)" y="7.3">4</text>
<text transform="translate(563.0,661.0) rotate(4.0)" y="7.3">0</text>
<text transform="translate(824.0,650.0) rotate(-14.0)" y="7.3">2</text>
<text transform="translate(717.0,688.0) rotate(-10.0)" y="7.3">6</text>
<text transform="translate(517.0,766.0) rotate(0.0)" y="7.3">6</text>
<text transform="translate(1349.0,721.0) rotate(90.0)" y="7.3">6</text>
<text transform="translate(1560.0,765.0) rotate(0.0)" y="7.3">2</text>
<text transform="translate(1440.0,777.0) rotate(-10.0)" y="7.3">4</text>
<text transform="translate(1132.0,781.0) rotate(20.0)" y="7.3">10</text>
<text transform="translate(701.0,790.0) rotate(-10.0)" y="7.3">8</text>
<text transform="translate(795.0,834.0) rotate(-10.0)" y="7.3">8</text>
<text transform="translate(945.0,871.0) rotate(0.0)" y="7.3">8</text>
<text transform="translate(1162.0,899.0) rotate(0.0)" y="7.3">8</text>
<text transform="translate(180.0,884.0) rotate(30.0)" y="7.3">14</text>
<text transform="translate(334.0,904.0) rotate(35.0)" y="7.3">16</text>
<text transform="translate(628.0,951.0) rotate(90.0)" y="7.3">8</text>
<text transform="translate(1053.0,951.0) rotate(20.0)" y="7.3">10</text>
<text transform="translate(1116.0,943.0) rotate(0.0)" y="7.3">8</text>
<text transform="translate(424.0,993.0) rotate(-8.0)" y="7.3">12</text>
<text transform="translate(439.0,1031.0) rotate(-15.0)" y="7.3">10</text>
<text transform="translate(208.0,1076.0) rotate(10.0)" y="7.3">8</text>
<text transform="translate(409.0,1093.0) rotate(-5.0)" y="7.3">6</text>
<text transform="translate(302.0,1128.0) rotate(5.0)" y="7.3">6</text>
<text transform="translate(640.0,1134.0) rotate(0.0)" y="7.3">8</text>
<text transform="translate(240.0,1171.0) rotate(0.0)" y="7.3">4</text>
<text transform="translate(655.0,1181.0) rotate(0.0)" y="7.3">6</text>
<text transform="translate(178.0,1215.0) rotate(5.0)" y="7.3">2</text>
<text transform="translate(240.0,1262.0) rotate(0.0)" y="7.3">0</text>
<text transform="translate(363.0,1334.0) rotate(0.0)" y="7.3">0</text>
<text transform="translate(1008.0,1232.0) rotate(-10.0)" y="7.3">16</text>
<text transform="translate(1408.0,1250.0) rotate(-40.0)" y="7.3">16</text>
<text transform="translate(1455.0,907.0) rotate(0.0)" y="7.3">4</text>
<text transform="translate(1530.0,911.0) rotate(0.0)" y="7.3">4</text>
<text transform="translate(1392.0,935.0) rotate(0.0)" y="7.3">6</text>
<text transform="translate(1622.0,856.0) rotate(10.0)" y="7.3">4</text>
<text transform="translate(1501.0,824.0) rotate(10.0)" y="7.3">4</text>
<text transform="translate(1422.0,864.0) rotate(20.0)" y="7.3">6</text>
<text transform="translate(1240.0,946.0) rotate(-30.0)" y="7.3">8</text>
<text transform="translate(991.0,903.0) rotate(30.0)" y="7.3">8</text>
</g>
</g>
<rect x="102.0" y="137.0" width="1536.0" height="1229.0" fill="none" stroke="#000" stroke-width="2"/>
<g font-size="24">
<text x="409.2" y="1396.7" text-anchor="middle">90°W</text>
<text x="716.4" y="1396.7" text-anchor="middle">80°W</text>
<text x="1023.6" y="1396.7" text-anchor="middle">70°W</text>
<text x="1330.8" y="1396.7" text-anchor="middle">60°W</text>
<text x="88.8" y="1219.6" text-anchor="end">5°N</text>
<text x="88.8" y="1066.0" text-anchor="end">10°N</text>
<text x="88.8" y="912.3" text-anchor="end">15°N</text>
<text x="88.8" y="758.7" text-anchor="end">20°N</text>
<text x="88.8" y="605.1" text-anchor="end">25°N</text>
<text x="88.8" y="451.4" text-anchor="end">30°N</text>
<text x="88.8" y="297.8" text-anchor="end">35°N</text>
</g>
<g shape-rendering="crispEdges">
<rect x="1675" y="1287" width="60" height="60" fill="#5e4fa2"/>
<rect x="1675" y="1228" width="60" height="59" fill="#486cb0"/>
<rect x="1675" y="1168" width="60" height="60" fill="#3389bd"/>
<rect x="1675" y="1109" width="60" height="59" fill="#50a9af"/>
<rect x="1675" y="1049" width="60" height="60" fill="#6bc4a5"/>
<rect x="1675" y="990" width="60" height="59" fill="#91d3a4"/>
<rect x="1675" y="930" width="60" height="60" fill="#b3e0a2"/>
<rect x="1675" y="871" width="60" height="59" fill="#d1ed9c"/>
<rect x="1675" y="811" width="60" height="60" fill="#ebf7a0"/>
<rect x="1675" y="752" width="60" height="59" fill="#f8fcb4"/>
<rect x="1675" y="692" width="60" height="60" fill="#fff7b2"/>
<rect x="1675" y="632" width="60" height="60" fill="#fee797"/>
<rect x="1675" y="573" width="60" height="59" fill="#fed07e"/>
<rect x="1675" y="513" width="60" height="60" fill="#fdb768"/>
<rect x="1675" y="454" width="60" height="59" fill="#fa9857"/>
<rect x="1675" y="394" width="60" height="60" fill="#f57547"/>
<rect x="1675" y="335" width="60" height="59" fill="#e85b48"/>
<rect x="1675" y="275" width="60" height="60" fill="#d7414e"/>
<rect x="1675" y="216" width="60" height="59" fill="#bc2249"/>
<rect x="1675" y="156" width="60" height="60" fill="#9e0142"/>
</g>
<rect x="1675.0" y="156.0" width="60.0" height="1191.0" fill="none" stroke="#000" stroke-width="2"/>
<g font-size="25">
<text x="1753" y="1356.0">−24</text>
<text x="1753" y="1296.5">−22</text>
<text x="1753" y="1236.9">−20</text>
<text x="1753" y="1177.3">−18</text>
<text x="1753" y="1117.8">−16</text>
<text x="1753" y="1058.2">−14</text>
<text x="1753" y="998.7">−12</text>
<text x="1753" y="939.2">−10</text>
<text x="1753" y="879.6">−8</text>
<text x="1753" y="820.1">−6</text>
<text x="1753" y="760.5">−4</text>
<text x="1753" y="701.0">−2</text>
<text x="1753" y="641.4">0</text>
<text x="1753" y="581.9">2</text>
<text x="1753" y="522.3">4</text>
<text x="1753" y="462.8">6</text>
<text x="1753" y="403.2">8</text>
<text x="1753" y="343.7">10</text>
<text x="1753" y="284.1">12</text>
<text x="1753" y="224.5">14</text>
<text x="1753" y="165.0">16</text>
<text transform="translate(1834,751.5) rotate(-90)" text-anchor="middle">Anomalía de θe de saturación media 1000–700 hPa [°C]</text>
</g>
<path d="M1735.0 1347.00h8.75M1735.0 1287.45h8.75M1735.0 1227.90h8.75M1735.0 1168.35h8.75M1735.0 1108.80h8.75M1735.0 1049.25h8.75M1735.0 989.70h8.75M1735.0 930.15h8.75M1735.0 870.60h8.75M1735.0 811.05h8.75M1735.0 751.50h8.75M1735.0 691.95h8.75M1735.0 632.40h8.75M1735.0 572.85h8.75M1735.0 513.30h8.75M1735.0 453.75h8.75M1735.0 394.20h8.75M1735.0 334.65h8.75M1735.0 275.10h8.75M1735.0 215.55h8.75M1735.0 156.00h8.75" stroke="#000" stroke-width="2" fill="none"/>
</svg></body></html>
